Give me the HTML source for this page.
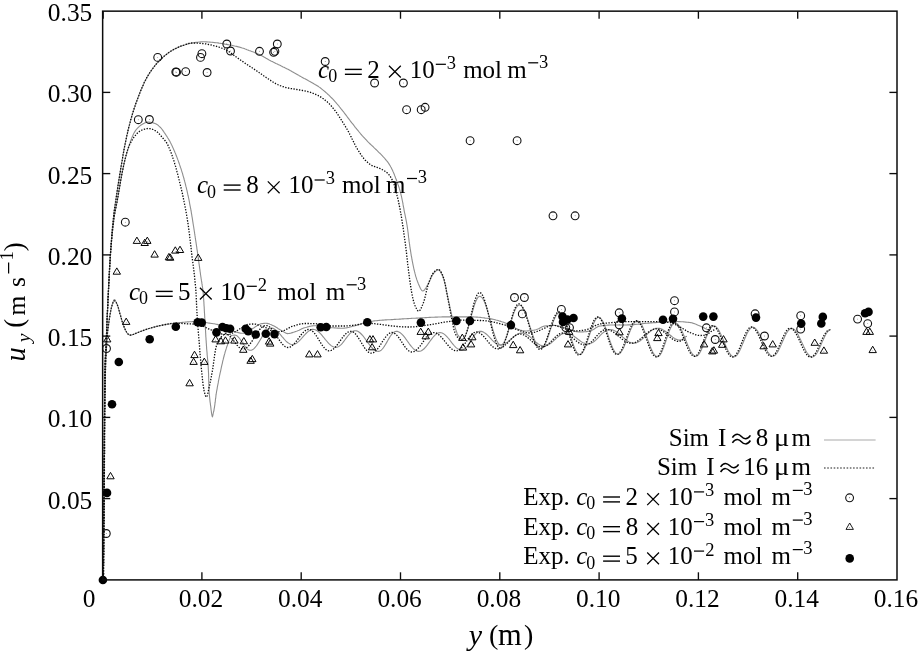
<!DOCTYPE html><html><head><meta charset="utf-8"><title>chart</title>
<style>html,body{margin:0;padding:0;background:#fff}svg{display:block;will-change:transform;opacity:0.999}text{font-family:"Liberation Serif",serif;fill:#000}</style></head><body>
<svg width="918" height="651" viewBox="0 0 918 651" font-size="25.0">
<rect width="918" height="651" fill="#fff"/>
<g fill="none" stroke="#8e8e8e" stroke-width="1.1" stroke-linejoin="round">
<path d="M103.4 580.0 L103.4 579.0 L103.4 578.0 L103.4 577.0 L103.4 576.0 L103.5 575.0 L103.5 574.0 L103.5 573.0 L103.5 572.0 L103.5 571.0 L103.5 570.0 L103.5 569.0 L103.5 568.0 L103.5 567.0 L103.5 566.0 L103.6 565.0 L103.6 564.0 L103.6 563.0 L103.6 562.0 L103.6 561.0 L103.6 560.0 L103.6 559.0 L103.6 558.0 L103.6 557.0 L103.6 556.0 L103.6 555.0 L103.7 554.0 L103.7 553.0 L103.7 552.0 L103.7 551.0 L103.7 550.0 L103.7 549.0 L103.7 548.0 L103.7 547.0 L103.7 546.0 L103.7 545.0 L103.8 544.0 L103.8 543.0 L103.8 542.0 L103.8 541.0 L103.8 540.0 L103.8 539.0 L103.8 538.0 L103.8 537.0 L103.8 536.0 L103.8 535.0 L103.8 534.0 L103.9 533.0 L103.9 532.0 L103.9 531.0 L103.9 530.0 L103.9 529.0 L103.9 528.0 L103.9 527.0 L103.9 526.0 L103.9 525.0 L103.9 524.0 L103.9 523.0 L104.0 522.0 L104.0 521.0 L104.0 520.0 L104.0 519.0 L104.0 518.0 L104.0 517.0 L104.0 516.0 L104.0 515.0 L104.0 514.0 L104.0 513.0 L104.0 512.0 L104.1 511.0 L104.1 510.0 L104.1 509.0 L104.1 508.0 L104.1 507.0 L104.1 506.0 L104.1 505.0 L104.1 504.0 L104.1 503.0 L104.1 502.0 L104.1 501.0 L104.1 500.0 L104.2 499.0 L104.2 498.0 L104.2 497.0 L104.2 496.0 L104.2 495.0 L104.2 494.0 L104.2 493.0 L104.2 492.0 L104.2 491.0 L104.2 490.0 L104.2 489.0 L104.2 488.0 L104.2 487.0 L104.3 486.0 L104.3 485.0 L104.3 484.0 L104.3 483.0 L104.3 482.0 L104.3 481.0 L104.3 480.0 L104.3 479.0 L104.3 478.0 L104.3 477.0 L104.3 476.0 L104.3 475.0 L104.3 474.0 L104.3 473.0 L104.4 472.0 L104.4 471.0 L104.4 470.0 L104.4 469.0 L104.4 468.0 L104.4 467.0 L104.4 466.0 L104.4 465.0 L104.4 464.0 L104.4 463.0 L104.4 462.0 L104.4 461.0 L104.4 460.0 L104.4 459.0 L104.4 458.0 L104.4 457.0 L104.4 456.0 L104.4 455.0 L104.5 454.0 L104.5 453.0 L104.5 452.0 L104.5 451.0 L104.5 450.0 L104.5 449.0 L104.5 448.0 L104.5 447.0 L104.5 446.0 L104.5 445.0 L104.5 444.0 L104.5 443.0 L104.5 442.0 L104.5 441.0 L104.5 440.0 L104.5 439.0 L104.5 438.0 L104.5 437.0 L104.5 436.0 L104.5 435.0 L104.5 434.0 L104.5 433.0 L104.5 432.0 L104.5 431.0 L104.6 430.0 L104.6 429.0 L104.6 428.0 L104.6 427.0 L104.6 426.0 L104.6 425.0 L104.6 424.0 L104.6 423.0 L104.6 422.0 L104.6 421.0 L104.6 420.0 L104.6 419.0 L104.6 418.0 L104.6 417.0 L104.6 416.0 L104.6 415.0 L104.6 414.0 L104.6 413.0 L104.6 412.0 L104.6 411.0 L104.6 410.0 L104.7 409.0 L104.7 408.0 L104.7 407.0 L104.7 406.0 L104.7 405.0 L104.7 404.0 L104.7 403.0 L104.7 402.0 L104.7 401.0 L104.7 400.0 L104.7 399.0 L104.7 398.0 L104.7 397.0 L104.7 396.0 L104.7 395.0 L104.8 394.0 L104.8 393.0 L104.8 392.0 L104.8 391.0 L104.8 390.0 L104.8 389.0 L104.8 388.0 L104.8 387.0 L104.8 386.0 L104.8 385.0 L104.8 384.0 L104.9 383.0 L104.9 382.0 L104.9 381.0 L104.9 380.0 L104.9 379.0 L104.9 378.0 L104.9 377.0 L104.9 376.0 L104.9 375.0 L105.0 374.0 L105.0 373.0 L105.0 372.0 L105.0 371.0 L105.0 370.0 L105.0 369.0 L105.0 368.0 L105.1 367.0 L105.1 366.0 L105.1 365.0 L105.1 364.0 L105.2 363.0 L105.2 362.0 L105.3 361.0 L105.3 360.0 L105.3 359.0 L105.4 358.0 L105.4 357.0 L105.5 356.0 L105.5 355.0 L105.6 354.0 L105.6 353.0 L105.7 352.0 L105.8 351.0 L105.8 350.0 L105.9 349.0 L105.9 348.0 L106.0 347.0 L106.0 346.0 L106.1 345.0 L106.1 344.0 L106.2 343.0 L106.2 342.0 L106.3 341.0 L106.3 340.0 L106.3 339.0 L106.4 338.0 L106.4 337.0 L106.5 336.0 L106.5 335.0 L106.5 334.0 L106.6 333.0 L106.6 332.0 L106.7 331.0 L106.7 330.0 L106.7 329.0 L106.8 328.0 L106.8 327.0 L106.9 326.0 L106.9 325.0 L106.9 324.0 L107.0 323.0 L107.0 322.0 L107.0 321.0 L107.1 320.0 L107.1 319.1 L107.2 318.1 L107.2 317.1 L107.3 316.1 L107.3 315.1 L107.3 314.1 L107.4 313.1 L107.4 312.1 L107.5 311.1 L107.5 310.1 L107.6 309.1 L107.6 308.1 L107.7 307.1 L107.7 306.1 L107.8 305.1 L107.8 304.1 L107.9 303.1 L107.9 302.1 L107.9 301.1 L108.0 300.1 L108.0 299.1 L108.1 298.1 L108.1 297.1 L108.2 296.1 L108.2 295.1 L108.3 294.1 L108.3 293.1 L108.4 292.1 L108.4 291.1 L108.5 290.1 L108.5 289.1 L108.6 288.1 L108.6 287.1 L108.7 286.1 L108.7 285.1 L108.8 284.1 L108.8 283.1 L108.9 282.1 L108.9 281.1 L109.0 280.1 L109.0 279.1 L109.1 278.1 L109.2 277.1 L109.2 276.1 L109.3 275.1 L109.3 274.1 L109.4 273.1 L109.4 272.1 L109.5 271.1 L109.5 270.1 L109.6 269.1 L109.6 268.1 L109.7 267.1 L109.7 266.1 L109.8 265.1 L109.9 264.1 L109.9 263.1 L110.0 262.1 L110.0 261.1 L110.1 260.1 L110.2 259.1 L110.2 258.1 L110.3 257.1 L110.3 256.1 L110.4 255.1 L110.5 254.1 L110.5 253.1 L110.6 252.1 L110.7 251.1 L110.7 250.1 L110.8 249.1 L110.9 248.2 L110.9 247.2 L111.0 246.2 L111.1 245.2 L111.2 244.2 L111.2 243.2 L111.3 242.2 L111.4 241.2 L111.4 240.2 L111.5 239.2 L111.6 238.2 L111.7 237.2 L111.8 236.2 L111.8 235.2 L111.9 234.2 L112.0 233.2 L112.1 232.2 L112.2 231.2 L112.2 230.2 L112.3 229.2 L112.4 228.2 L112.5 227.2 L112.6 226.2 L112.7 225.2 L112.8 224.2 L112.9 223.2 L113.0 222.2 L113.1 221.2 L113.2 220.2 L113.3 219.2 L113.4 218.3 L113.5 217.3 L113.6 216.3 L113.7 215.3 L113.8 214.3 L113.9 213.3 L114.1 212.3 L114.2 211.3 L114.3 210.3 L114.5 209.3 L114.6 208.3 L114.7 207.3 L114.9 206.4 L115.0 205.4 L115.2 204.4 L115.3 203.4 L115.5 202.4 L115.6 201.4 L115.8 200.4 L115.9 199.4 L116.1 198.4 L116.2 197.4 L116.4 196.5 L116.5 195.5 L116.7 194.5 L116.8 193.5 L117.0 192.5 L117.1 191.5 L117.3 190.5 L117.4 189.5 L117.6 188.6 L117.7 187.6 L117.9 186.6 L118.0 185.6 L118.2 184.6 L118.3 183.6 L118.5 182.6 L118.7 181.6 L118.8 180.6 L119.0 179.7 L119.1 178.7 L119.3 177.7 L119.5 176.7 L119.6 175.7 L119.8 174.7 L119.9 173.7 L120.1 172.8 L120.3 171.8 L120.4 170.8 L120.6 169.8 L120.7 168.8 L120.9 167.8 L121.1 166.8 L121.2 165.8 L121.4 164.9 L121.6 163.9 L121.7 162.9 L121.9 161.9 L122.1 160.9 L122.2 159.9 L122.4 158.9 L122.6 158.0 L122.7 157.0 L122.9 156.0 L123.1 155.0 L123.2 154.0 L123.4 153.0 L123.6 152.0 L123.8 151.1 L123.9 150.1 L124.1 149.1 L124.3 148.1 L124.5 147.1 L124.7 146.1 L124.9 145.2 L125.1 144.2 L125.3 143.2 L125.5 142.2 L125.7 141.2 L125.9 140.3 L126.1 139.3 L126.3 138.3 L126.5 137.3 L126.7 136.3 L126.9 135.4 L127.1 134.4 L127.4 133.4 L127.6 132.4 L127.8 131.5 L128.0 130.5 L128.3 129.5 L128.5 128.5 L128.7 127.6 L129.0 126.6 L129.2 125.6 L129.5 124.7 L129.7 123.7 L130.0 122.7 L130.2 121.8 L130.5 120.8 L130.7 119.8 L131.0 118.9 L131.3 117.9 L131.6 117.0 L131.8 116.0 L132.1 115.0 L132.4 114.1 L132.7 113.1 L133.0 112.2 L133.3 111.2 L133.6 110.2 L133.9 109.3 L134.2 108.3 L134.5 107.4 L134.9 106.4 L135.2 105.5 L135.5 104.6 L135.8 103.6 L136.2 102.7 L136.5 101.7 L136.9 100.8 L137.2 99.8 L137.5 98.9 L137.9 98.0 L138.2 97.0 L138.6 96.1 L139.0 95.2 L139.3 94.2 L139.7 93.3 L140.0 92.4 L140.4 91.4 L140.8 90.5 L141.2 89.6 L141.6 88.6 L142.0 87.7 L142.4 86.8 L142.8 85.9 L143.2 85.0 L143.6 84.0 L144.0 83.1 L144.4 82.2 L144.9 81.4 L145.3 80.5 L145.8 79.6 L146.3 78.7 L146.7 77.8 L147.2 77.0 L147.7 76.1 L148.2 75.2 L148.8 74.4 L149.3 73.5 L149.8 72.7 L150.4 71.8 L151.0 71.0 L151.5 70.2 L152.1 69.4 L152.7 68.6 L153.3 67.7 L153.9 67.0 L154.5 66.2 L155.1 65.4 L155.8 64.6 L156.4 63.9 L157.1 63.1 L157.7 62.4 L158.4 61.6 L159.1 60.9 L159.8 60.2 L160.5 59.5 L161.3 58.8 L162.0 58.1 L162.7 57.4 L163.5 56.8 L164.2 56.1 L165.0 55.5 L165.8 54.9 L166.6 54.2 L167.4 53.6 L168.2 53.0 L169.0 52.4 L169.8 51.9 L170.7 51.3 L171.5 50.8 L172.4 50.3 L173.2 49.8 L174.1 49.3 L175.0 48.8 L175.9 48.4 L176.8 47.9 L177.7 47.5 L178.6 47.1 L179.5 46.7 L180.4 46.3 L181.4 45.9 L182.3 45.6 L183.3 45.3 L184.2 45.0 L185.2 44.7 L186.1 44.4 L187.1 44.1 L188.1 43.9 L189.0 43.6 L190.0 43.4 L191.0 43.2 L192.0 43.0 L193.0 42.9 L193.9 42.7 L194.9 42.6 L195.9 42.4 L196.9 42.3 L197.9 42.2 L198.9 42.0 L199.9 42.0 L200.9 41.9 L201.9 41.8 L202.9 41.8 L203.9 41.8 L204.9 41.8 L205.9 41.9 L206.9 41.9 L207.9 42.0 L208.9 42.0 L209.9 42.1 L210.9 42.2 L211.9 42.3 L212.9 42.4 L213.9 42.5 L214.9 42.6 L215.9 42.7 L216.9 42.8 L217.9 42.9 L218.9 43.1 L219.8 43.2 L220.8 43.4 L221.8 43.5 L222.8 43.7 L223.8 43.9 L224.8 44.1 L225.8 44.2 L226.7 44.4 L227.7 44.6 L228.7 44.8 L229.7 45.0 L230.7 45.2 L231.7 45.3 L232.6 45.5 L233.6 45.7 L234.6 46.0 L235.6 46.2 L236.6 46.4 L237.5 46.6 L238.5 46.9 L239.5 47.1 L240.4 47.4 L241.4 47.7 L242.3 48.0 L243.3 48.3 L244.2 48.6 L245.2 49.0 L246.1 49.3 L247.0 49.7 L248.0 50.0 L248.9 50.4 L249.8 50.7 L250.8 51.1 L251.7 51.4 L252.7 51.8 L253.6 52.1 L254.5 52.5 L255.5 52.9 L256.4 53.2 L257.3 53.6 L258.2 54.0 L259.2 54.4 L260.1 54.8 L260.9 55.3 L261.8 55.7 L262.7 56.2 L263.6 56.7 L264.4 57.3 L265.3 57.8 L266.1 58.3 L267.0 58.8 L267.9 59.3 L268.7 59.8 L269.6 60.3 L270.5 60.7 L271.4 61.2 L272.3 61.6 L273.2 62.1 L274.1 62.5 L275.0 62.9 L275.9 63.4 L276.8 63.8 L277.7 64.2 L278.6 64.7 L279.5 65.1 L280.4 65.5 L281.3 66.0 L282.2 66.4 L283.1 66.9 L284.0 67.3 L284.9 67.8 L285.8 68.2 L286.7 68.7 L287.5 69.1 L288.4 69.6 L289.3 70.1 L290.2 70.6 L291.1 71.0 L291.9 71.5 L292.8 72.0 L293.7 72.5 L294.6 73.0 L295.4 73.4 L296.3 73.9 L297.2 74.4 L298.1 74.9 L298.9 75.4 L299.8 75.9 L300.7 76.4 L301.5 76.9 L302.4 77.4 L303.3 77.9 L304.2 78.4 L305.0 78.8 L305.9 79.3 L306.8 79.8 L307.7 80.3 L308.5 80.8 L309.4 81.3 L310.3 81.7 L311.2 82.2 L312.1 82.7 L313.0 83.2 L313.8 83.7 L314.7 84.2 L315.5 84.7 L316.4 85.2 L317.2 85.7 L318.1 86.3 L318.9 86.9 L319.7 87.4 L320.5 88.0 L321.3 88.6 L322.1 89.3 L322.8 89.9 L323.6 90.5 L324.4 91.2 L325.2 91.8 L325.9 92.5 L326.7 93.2 L327.4 93.8 L328.1 94.5 L328.9 95.2 L329.6 95.9 L330.3 96.6 L331.0 97.3 L331.7 98.0 L332.4 98.7 L333.1 99.4 L333.8 100.2 L334.4 100.9 L335.1 101.7 L335.8 102.4 L336.4 103.2 L337.1 104.0 L337.7 104.7 L338.4 105.5 L339.0 106.2 L339.6 107.0 L340.3 107.8 L340.9 108.6 L341.5 109.3 L342.1 110.1 L342.7 110.9 L343.4 111.7 L344.0 112.5 L344.6 113.3 L345.2 114.1 L345.8 114.9 L346.4 115.7 L347.0 116.5 L347.6 117.3 L348.2 118.1 L348.8 118.9 L349.4 119.7 L350.0 120.5 L350.6 121.3 L351.2 122.1 L351.8 122.9 L352.5 123.7 L353.1 124.4 L353.7 125.2 L354.3 126.0 L354.9 126.8 L355.5 127.6 L356.2 128.4 L356.8 129.2 L357.4 129.9 L358.1 130.7 L358.7 131.5 L359.3 132.2 L360.0 133.0 L360.6 133.8 L361.3 134.5 L361.9 135.3 L362.6 136.0 L363.3 136.8 L363.9 137.5 L364.6 138.2 L365.3 139.0 L366.0 139.7 L366.7 140.4 L367.3 141.2 L368.0 141.9 L368.8 142.6 L369.5 143.3 L370.2 144.0 L370.9 144.7 L371.6 145.4 L372.4 146.0 L373.1 146.7 L373.8 147.4 L374.5 148.1 L375.3 148.8 L376.0 149.5 L376.7 150.2 L377.4 150.9 L378.1 151.6 L378.8 152.3 L379.6 153.0 L380.3 153.7 L381.0 154.4 L381.7 155.1 L382.4 155.8 L383.1 156.6 L383.8 157.3 L384.4 158.0 L385.1 158.8 L385.7 159.6 L386.3 160.4 L387.0 161.1 L387.6 161.9 L388.2 162.7 L388.8 163.6 L389.3 164.4 L389.8 165.2 L390.3 166.1 L390.8 167.0 L391.3 167.8 L391.7 168.7 L392.1 169.6 L392.6 170.5 L393.0 171.5 L393.4 172.4 L393.8 173.3 L394.2 174.2 L394.5 175.2 L394.9 176.1 L395.3 177.0 L395.6 178.0 L396.0 178.9 L396.3 179.8 L396.7 180.8 L397.0 181.7 L397.4 182.7 L397.7 183.6 L398.0 184.5 L398.4 185.5 L398.7 186.4 L399.0 187.4 L399.3 188.4 L399.6 189.3 L399.9 190.3 L400.1 191.2 L400.4 192.2 L400.7 193.2 L400.9 194.1 L401.1 195.1 L401.4 196.1 L401.6 197.0 L401.8 198.0 L402.0 199.0 L402.2 200.0 L402.4 201.0 L402.6 201.9 L402.8 202.9 L403.0 203.9 L403.1 204.9 L403.3 205.9 L403.5 206.9 L403.7 207.8 L403.9 208.8 L404.0 209.8 L404.2 210.8 L404.4 211.8 L404.6 212.8 L404.8 213.7 L405.0 214.7 L405.2 215.7 L405.4 216.7 L405.6 217.7 L405.8 218.7 L406.0 219.6 L406.2 220.6 L406.4 221.6 L406.6 222.6 L406.7 223.6 L406.9 224.5 L407.1 225.5 L407.2 226.5 L407.4 227.5 L407.5 228.5 L407.7 229.5 L407.8 230.5 L407.9 231.5 L408.1 232.5 L408.2 233.5 L408.3 234.4 L408.4 235.4 L408.5 236.4 L408.6 237.4 L408.8 238.4 L408.9 239.4 L409.0 240.4 L409.1 241.4 L409.3 242.4 L409.4 243.4 L409.6 244.4 L409.7 245.4 L409.8 246.3 L410.0 247.3 L410.1 248.3 L410.3 249.3 L410.5 250.3 L410.6 251.3 L410.8 252.3 L410.9 253.3 L411.1 254.3 L411.2 255.3 L411.4 256.2 L411.6 257.2 L411.8 258.2 L411.9 259.2 L412.1 260.2 L412.3 261.2 L412.5 262.2 L412.7 263.1 L412.9 264.1 L413.1 265.1 L413.3 266.1 L413.5 267.0 L413.7 268.0 L413.9 269.0 L414.1 270.0 L414.4 270.9 L414.6 271.9 L414.9 272.9 L415.1 273.9 L415.4 274.8 L415.6 275.8 L415.9 276.8 L416.2 277.7 L416.5 278.7 L416.8 279.7 L417.2 280.6 L417.5 281.5 L417.9 282.5 L418.2 283.4 L418.6 284.3 L419.0 285.2 L419.5 286.3 L420.0 287.4 L420.5 288.5 L421.1 289.5 L421.7 290.3 L422.3 290.8 L422.8 291.0 L423.4 290.8 L424.1 290.3 L424.7 289.6 L425.4 288.7 L426.0 287.7 L426.6 286.6 L427.2 285.6 L427.8 284.7 L428.3 283.8 L428.8 282.9 L429.2 282.0 L429.7 281.1 L430.1 280.1 L430.5 279.2 L430.9 278.2 L431.3 277.3 L431.7 276.4 L432.2 275.5 L432.7 274.7 L433.2 273.9 L433.8 273.1 L434.5 272.3 L435.4 271.5 L436.2 270.7 L437.1 270.2 L437.8 269.8 L438.5 269.8 L439.1 270.2 L439.7 270.7 L440.3 271.5 L440.8 272.4 L441.4 273.4 L441.9 274.5 L442.4 275.7 L442.8 276.8 L443.2 277.9 L443.6 278.9 L443.9 279.8 L444.2 280.7 L444.4 281.6 L444.7 282.6 L445.0 283.5 L445.2 284.5 L445.4 285.5 L445.6 286.4 L445.9 287.4 L446.1 288.4 L446.2 289.4 L446.4 290.4 L446.6 291.4 L446.8 292.4 L447.0 293.4 L447.2 294.4 L447.4 295.4 L447.6 296.4 L447.8 297.4 L448.0 298.4 L448.2 299.3 L448.4 300.3 L448.6 301.3 L448.9 302.3 L449.1 303.2 L449.3 304.2 L449.5 305.2 L449.7 306.2 L449.9 307.2 L450.1 308.1 L450.3 309.1 L450.6 310.1 L450.8 311.1 L451.0 312.0 L451.2 313.0 L451.4 314.0 L451.7 315.0 L451.9 315.9 L452.1 316.9 L452.4 317.9 L452.6 318.8 L452.9 319.8 L453.1 320.8 L453.4 321.7 L453.7 322.7 L454.0 323.7 L454.2 324.6 L454.5 325.6 L454.8 326.5 L455.1 327.5 L455.4 328.4 L455.7 329.4 L456.1 330.3 L456.4 331.3 L456.7 332.2 L457.0 333.2 L457.3 334.1 L457.4 334.3 L461.7 340.0 L462.7 339.7 L463.7 338.7 L464.7 337.1 L465.7 334.9 L466.7 332.3 L467.7 329.2 L468.7 325.8 L469.7 322.1 L470.7 318.3 L471.7 314.6 L472.7 310.9 L473.7 307.4 L474.7 304.3 L475.7 301.6 L476.7 299.4 L477.7 297.7 L478.7 296.7 L479.7 296.3 L479.8 296.3 L480.8 296.6 L481.8 297.4 L482.8 298.7 L483.8 300.5 L484.8 302.8 L485.8 305.4 L486.8 308.4 L487.8 311.7 L488.8 315.1 L489.8 318.7 L490.8 322.3 L491.8 325.9 L492.8 329.4 L493.8 332.7 L494.8 335.7 L495.8 338.4 L496.8 340.7 L497.8 342.5 L498.8 343.9 L499.8 344.8 L500.8 345.1 L500.9 345.1 L501.9 344.8 L502.9 343.9 L503.9 342.5 L504.9 340.6 L505.9 338.2 L506.9 335.5 L507.9 332.4 L508.9 329.1 L509.9 325.7 L510.9 322.3 L511.9 319.0 L512.9 315.8 L513.9 312.9 L514.9 310.4 L515.9 308.3 L516.9 306.7 L517.9 305.6 L518.9 305.0 L519.3 305.0 L520.3 305.2 L521.3 305.9 L522.3 307.1 L523.3 308.6 L524.3 310.6 L525.3 312.8 L526.3 315.4 L527.3 318.2 L528.3 321.2 L529.3 324.4 L530.3 327.5 L531.3 330.7 L532.3 333.8 L533.3 336.7 L534.3 339.4 L535.3 341.8 L536.3 344.0 L537.3 345.7 L538.3 347.1 L539.3 348.0 L540.3 348.4 L540.8 348.5 L541.8 348.2 L542.8 347.5 L543.8 346.3 L544.8 344.6 L545.8 342.6 L546.8 340.2 L547.8 337.5 L548.8 334.7 L549.8 331.7 L550.8 328.7 L551.8 325.7 L552.8 322.9 L553.8 320.3 L554.8 318.0 L555.8 316.0 L556.8 314.4 L557.8 313.3 L558.8 312.7 L559.6 312.5 L560.6 312.8 L561.6 313.5 L562.6 314.7 L563.6 316.4 L564.6 318.5 L565.6 321.0 L566.6 323.8 L567.6 326.8 L568.6 329.9 L569.6 333.2 L570.6 336.4 L571.6 339.6 L572.6 342.7 L573.6 345.5 L574.6 348.0 L575.6 350.2 L576.6 352.0 L577.6 353.3 L578.6 354.1 L579.6 354.5 L579.8 354.5 L580.8 354.2 L581.8 353.5 L582.8 352.2 L583.8 350.5 L584.8 348.4 L585.8 345.9 L586.8 343.2 L587.8 340.2 L588.8 337.1 L589.8 334.0 L590.8 331.0 L591.8 328.1 L592.8 325.4 L593.8 323.0 L594.8 320.9 L595.8 319.3 L596.8 318.1 L597.8 317.5 L598.6 317.3 L599.6 317.5 L600.6 318.3 L601.6 319.5 L602.6 321.1 L603.6 323.1 L604.6 325.4 L605.6 328.0 L606.6 330.9 L607.6 333.8 L608.6 336.8 L609.6 339.8 L610.6 342.6 L611.6 345.3 L612.6 347.7 L613.6 349.9 L614.6 351.6 L615.6 352.9 L616.6 353.8 L617.6 354.2 L617.9 354.2 L618.9 354.0 L619.9 353.3 L620.9 352.3 L621.9 350.8 L622.9 349.0 L623.9 347.0 L624.9 344.6 L625.9 342.1 L626.9 339.5 L627.9 336.8 L628.9 334.1 L629.9 331.6 L630.9 329.1 L631.9 327.0 L632.9 325.0 L633.9 323.5 L634.9 322.2 L635.9 321.4 L636.9 321.0 L637.3 321.0 L638.3 321.2 L639.3 321.9 L640.3 322.9 L641.3 324.3 L642.3 326.1 L643.3 328.2 L644.3 330.6 L645.3 333.1 L646.3 335.8 L647.3 338.6 L648.3 341.3 L649.3 344.0 L650.3 346.6 L651.3 349.0 L652.3 351.2 L653.3 353.0 L654.3 354.5 L655.3 355.7 L656.3 356.4 L657.3 356.7 L657.5 356.7 L658.5 356.4 L659.5 355.6 L660.5 354.3 L661.5 352.6 L662.5 350.4 L663.5 347.9 L664.5 345.1 L665.5 342.2 L666.5 339.1 L667.5 336.1 L668.5 333.3 L669.5 330.6 L670.5 328.2 L671.5 326.2 L672.5 324.6 L673.5 323.5 L674.5 322.9 L675.1 322.8 L676.1 323.0 L677.1 323.6 L678.1 324.5 L679.1 325.8 L680.1 327.3 L681.1 329.2 L682.1 331.3 L683.1 333.6 L684.1 336.0 L685.1 338.5 L686.1 341.0 L687.1 343.5 L688.1 345.9 L689.1 348.1 L690.1 350.2 L691.1 352.0 L692.1 353.5 L693.1 354.7 L694.1 355.6 L695.1 356.1 L695.9 356.2 L696.9 356.0 L697.9 355.3 L698.9 354.1 L699.9 352.6 L700.9 350.7 L701.9 348.5 L702.9 346.1 L703.9 343.6 L704.9 340.9 L705.9 338.3 L706.9 335.7 L707.9 333.3 L708.9 331.2 L709.9 329.3 L710.9 327.8 L711.9 326.7 L712.9 326.1 L713.8 325.9 L714.8 326.1 L715.8 326.6 L716.8 327.6 L717.8 328.8 L718.8 330.3 L719.8 332.2 L720.8 334.2 L721.8 336.4 L722.8 338.7 L723.8 341.1 L724.8 343.5 L725.8 345.8 L726.8 348.1 L727.8 350.2 L728.8 352.0 L729.8 353.6 L730.8 354.9 L731.8 355.9 L732.8 356.5 L733.8 356.8 L734.0 356.8 L735.0 356.6 L736.0 356.0 L737.0 355.0 L738.0 353.6 L739.0 351.9 L740.0 350.0 L741.0 347.8 L742.0 345.4 L743.0 343.0 L744.0 340.5 L745.0 338.1 L746.0 335.8 L747.0 333.6 L748.0 331.7 L749.0 330.1 L750.0 328.8 L751.0 327.9 L752.0 327.3 L752.8 327.2 L753.8 327.4 L754.8 327.9 L755.8 328.8 L756.8 330.0 L757.8 331.4 L758.8 333.2 L759.8 335.1 L760.8 337.2 L761.8 339.4 L762.8 341.7 L763.8 344.0 L764.8 346.2 L765.8 348.3 L766.8 350.2 L767.8 352.0 L768.8 353.4 L769.8 354.6 L770.8 355.5 L771.8 356.0 L772.8 356.2 L773.8 356.0 L774.8 355.4 L775.8 354.5 L776.8 353.2 L777.8 351.7 L778.8 349.8 L779.8 347.8 L780.8 345.6 L781.8 343.3 L782.8 341.0 L783.8 338.8 L784.8 336.6 L785.8 334.6 L786.8 332.8 L787.8 331.2 L788.8 330.0 L789.8 329.1 L790.8 328.6 L791.7 328.4 L792.7 328.6 L793.7 329.1 L794.7 329.9 L795.7 331.0 L796.7 332.4 L797.7 334.0 L798.7 335.9 L799.7 337.9 L800.7 340.0 L801.7 342.2 L802.7 344.3 L803.7 346.5 L804.7 348.5 L805.7 350.5 L806.7 352.2 L807.7 353.7 L808.7 355.0 L809.7 356.0 L810.7 356.6 L811.7 357.0 L812.2 357.0 L813.2 356.8 L814.2 356.2 L815.2 355.3 L816.2 354.1 L817.2 352.5 L818.2 350.7 L819.2 348.6 L820.2 346.5 L821.2 344.2 L822.2 341.9 L823.2 339.7 L824.2 337.5 L825.2 335.5 L826.2 333.8 L827.2 332.3 L828.2 331.1 L829.2 330.2 L830.2 329.7 L831.0 329.6"/>
<path d="M103.4 580.0 L103.4 579.0 L103.4 578.0 L103.4 577.0 L103.4 576.0 L103.5 575.0 L103.5 574.0 L103.5 573.0 L103.5 572.0 L103.5 571.0 L103.5 570.0 L103.5 569.0 L103.5 568.0 L103.5 567.0 L103.5 566.0 L103.6 565.0 L103.6 564.0 L103.6 563.0 L103.6 562.0 L103.6 561.0 L103.6 560.0 L103.6 559.0 L103.6 558.0 L103.6 557.0 L103.6 556.0 L103.6 555.0 L103.7 554.0 L103.7 553.0 L103.7 552.0 L103.7 551.0 L103.7 550.0 L103.7 549.0 L103.7 548.0 L103.7 547.0 L103.7 546.0 L103.7 545.0 L103.8 544.0 L103.8 543.0 L103.8 542.0 L103.8 541.0 L103.8 540.0 L103.8 539.0 L103.8 538.0 L103.8 537.0 L103.8 536.0 L103.8 535.0 L103.8 534.0 L103.9 533.0 L103.9 532.0 L103.9 531.0 L103.9 530.0 L103.9 529.0 L103.9 528.0 L103.9 527.0 L103.9 526.0 L103.9 525.0 L103.9 524.0 L103.9 523.0 L104.0 522.0 L104.0 521.0 L104.0 520.0 L104.0 519.0 L104.0 518.0 L104.0 517.0 L104.0 516.0 L104.0 515.0 L104.0 514.0 L104.0 513.0 L104.0 512.0 L104.1 511.0 L104.1 510.0 L104.1 509.0 L104.1 508.0 L104.1 507.0 L104.1 506.0 L104.1 505.0 L104.1 504.0 L104.1 503.0 L104.1 502.0 L104.1 501.0 L104.1 500.0 L104.2 499.0 L104.2 498.0 L104.2 497.0 L104.2 496.0 L104.2 495.0 L104.2 494.0 L104.2 493.0 L104.2 492.0 L104.2 491.0 L104.2 490.0 L104.2 489.0 L104.2 488.0 L104.2 487.0 L104.3 486.0 L104.3 485.0 L104.3 484.0 L104.3 483.0 L104.3 482.0 L104.3 481.0 L104.3 480.0 L104.3 479.0 L104.3 478.0 L104.3 477.0 L104.3 476.0 L104.3 475.0 L104.3 474.0 L104.3 473.0 L104.4 472.0 L104.4 471.0 L104.4 470.0 L104.4 469.0 L104.4 468.0 L104.4 467.0 L104.4 466.0 L104.4 465.0 L104.4 464.0 L104.4 463.0 L104.4 462.0 L104.4 461.0 L104.4 460.0 L104.4 459.0 L104.4 458.0 L104.4 457.0 L104.4 456.0 L104.4 455.0 L104.5 454.0 L104.5 453.0 L104.5 452.0 L104.5 451.0 L104.5 450.0 L104.5 449.0 L104.5 448.0 L104.5 447.0 L104.5 446.0 L104.5 445.0 L104.5 444.0 L104.5 443.0 L104.5 442.0 L104.5 441.0 L104.5 440.0 L104.5 439.0 L104.5 438.0 L104.5 437.0 L104.5 436.0 L104.5 435.0 L104.5 434.0 L104.5 433.0 L104.5 432.0 L104.5 431.0 L104.6 430.0 L104.6 429.0 L104.6 428.0 L104.6 427.0 L104.6 426.0 L104.6 425.0 L104.6 424.0 L104.6 423.0 L104.6 422.0 L104.6 421.0 L104.6 420.0 L104.6 419.0 L104.6 418.0 L104.6 417.0 L104.6 416.0 L104.6 415.0 L104.6 414.0 L104.6 413.0 L104.6 412.0 L104.6 411.0 L104.6 410.0 L104.7 409.0 L104.7 408.0 L104.7 407.0 L104.7 406.0 L104.7 405.0 L104.7 404.0 L104.7 403.0 L104.7 402.0 L104.7 401.0 L104.7 400.0 L104.7 399.0 L104.7 398.0 L104.7 397.0 L104.7 396.0 L104.7 395.0 L104.8 394.0 L104.8 393.0 L104.8 392.0 L104.8 391.0 L104.8 390.0 L104.8 389.0 L104.8 388.0 L104.8 387.0 L104.8 386.0 L104.8 385.0 L104.8 384.0 L104.9 383.0 L104.9 382.0 L104.9 381.0 L104.9 380.0 L104.9 379.0 L104.9 378.0 L104.9 377.0 L104.9 376.0 L104.9 375.0 L105.0 374.0 L105.0 373.0 L105.0 372.0 L105.0 371.0 L105.0 370.0 L105.0 369.0 L105.0 368.0 L105.1 367.0 L105.1 366.0 L105.1 365.0 L105.1 364.0 L105.2 363.0 L105.2 362.0 L105.3 361.0 L105.3 360.0 L105.3 359.0 L105.4 358.0 L105.4 357.0 L105.5 356.0 L105.5 355.0 L105.6 354.0 L105.6 353.0 L105.7 352.0 L105.8 351.0 L105.8 350.0 L105.9 349.0 L105.9 348.0 L106.0 347.0 L106.0 346.0 L106.1 345.0 L106.1 344.0 L106.2 343.0 L106.2 342.0 L106.3 341.0 L106.3 340.0 L106.3 339.0 L106.4 338.0 L106.4 337.0 L106.5 336.0 L106.5 335.0 L106.5 334.0 L106.6 333.0 L106.6 332.0 L106.7 331.0 L106.7 330.0 L106.7 329.0 L106.8 328.0 L106.8 327.0 L106.9 326.0 L106.9 325.0 L106.9 324.0 L107.0 323.0 L107.0 322.0 L107.0 321.0 L107.1 320.0 L107.1 319.1 L107.2 318.1 L107.2 317.1 L107.3 316.1 L107.3 315.1 L107.3 314.1 L107.4 313.1 L107.4 312.1 L107.5 311.1 L107.5 310.1 L107.6 309.1 L107.6 308.1 L107.7 307.1 L107.7 306.1 L107.8 305.1 L107.8 304.1 L107.9 303.1 L107.9 302.1 L107.9 301.1 L108.0 300.1 L108.0 299.1 L108.1 298.1 L108.1 297.1 L108.2 296.1 L108.2 295.1 L108.3 294.1 L108.3 293.1 L108.4 292.1 L108.4 291.1 L108.5 290.1 L108.5 289.1 L108.6 288.1 L108.6 287.1 L108.7 286.1 L108.7 285.1 L108.8 284.1 L108.8 283.1 L108.9 282.1 L108.9 281.1 L109.0 280.1 L109.0 279.1 L109.1 278.1 L109.1 277.1 L109.2 276.1 L109.2 275.1 L109.3 274.1 L109.3 273.1 L109.4 272.1 L109.4 271.1 L109.5 270.1 L109.5 269.1 L109.6 268.1 L109.7 267.1 L109.7 266.1 L109.8 265.1 L109.8 264.1 L109.9 263.1 L110.0 262.1 L110.0 261.1 L110.1 260.1 L110.1 259.1 L110.2 258.1 L110.3 257.1 L110.3 256.1 L110.4 255.1 L110.5 254.1 L110.5 253.1 L110.6 252.1 L110.7 251.1 L110.8 250.1 L110.8 249.2 L110.9 248.2 L111.0 247.2 L111.1 246.2 L111.2 245.2 L111.2 244.2 L111.3 243.2 L111.4 242.2 L111.5 241.2 L111.6 240.2 L111.7 239.2 L111.8 238.2 L111.9 237.2 L112.0 236.2 L112.1 235.2 L112.2 234.2 L112.3 233.2 L112.4 232.2 L112.5 231.2 L112.6 230.2 L112.7 229.2 L112.8 228.2 L112.9 227.2 L113.0 226.2 L113.2 225.2 L113.3 224.3 L113.4 223.3 L113.5 222.3 L113.6 221.3 L113.8 220.3 L113.9 219.3 L114.0 218.3 L114.2 217.3 L114.3 216.3 L114.4 215.3 L114.6 214.4 L114.8 213.4 L114.9 212.4 L115.1 211.4 L115.3 210.4 L115.5 209.4 L115.7 208.5 L115.9 207.5 L116.1 206.5 L116.3 205.5 L116.5 204.5 L116.7 203.6 L116.9 202.6 L117.1 201.6 L117.3 200.6 L117.4 199.6 L117.6 198.6 L117.8 197.7 L118.0 196.7 L118.1 195.7 L118.3 194.7 L118.5 193.7 L118.6 192.7 L118.8 191.7 L119.0 190.7 L119.1 189.8 L119.3 188.8 L119.5 187.8 L119.6 186.8 L119.8 185.8 L120.0 184.8 L120.1 183.8 L120.3 182.9 L120.5 181.9 L120.6 180.9 L120.8 179.9 L121.0 178.9 L121.2 177.9 L121.3 176.9 L121.5 176.0 L121.7 175.0 L121.9 174.0 L122.1 173.0 L122.3 172.0 L122.5 171.1 L122.7 170.1 L122.9 169.1 L123.1 168.1 L123.3 167.1 L123.5 166.2 L123.7 165.2 L124.0 164.2 L124.2 163.2 L124.4 162.3 L124.6 161.3 L124.9 160.3 L125.1 159.3 L125.4 158.4 L125.6 157.4 L125.9 156.4 L126.1 155.5 L126.4 154.5 L126.7 153.5 L126.9 152.6 L127.2 151.6 L127.5 150.7 L127.8 149.7 L128.1 148.8 L128.4 147.8 L128.7 146.9 L129.0 145.9 L129.3 144.9 L129.6 144.0 L130.0 143.0 L130.3 142.0 L130.6 141.0 L131.0 140.1 L131.3 139.1 L131.7 138.2 L132.1 137.2 L132.5 136.3 L132.9 135.4 L133.3 134.5 L133.7 133.6 L134.2 132.7 L134.7 131.9 L135.2 131.1 L135.7 130.3 L136.3 129.5 L136.9 128.8 L137.6 128.0 L138.4 127.3 L139.1 126.6 L139.9 125.9 L140.7 125.3 L141.5 124.8 L142.4 124.3 L143.2 123.7 L144.2 123.2 L145.1 122.7 L146.1 122.4 L147.0 122.1 L148.0 122.0 L148.9 122.0 L149.9 122.2 L150.9 122.3 L151.9 122.6 L152.9 122.8 L153.9 123.1 L154.8 123.4 L155.7 123.8 L156.6 124.2 L157.4 124.8 L158.3 125.4 L159.0 126.1 L159.8 126.8 L160.5 127.5 L161.1 128.2 L161.8 129.0 L162.4 129.8 L163.0 130.6 L163.5 131.4 L164.1 132.3 L164.7 133.1 L165.2 133.9 L165.8 134.8 L166.3 135.6 L166.9 136.4 L167.4 137.3 L167.9 138.1 L168.5 139.0 L169.0 139.9 L169.5 140.7 L170.0 141.6 L170.4 142.5 L170.9 143.4 L171.3 144.3 L171.8 145.2 L172.2 146.1 L172.6 147.0 L173.0 147.9 L173.4 148.8 L173.8 149.7 L174.2 150.6 L174.6 151.5 L175.0 152.5 L175.4 153.4 L175.8 154.3 L176.1 155.3 L176.5 156.2 L176.9 157.1 L177.2 158.1 L177.6 159.0 L177.9 159.9 L178.3 160.9 L178.6 161.8 L178.9 162.8 L179.3 163.7 L179.6 164.7 L179.9 165.6 L180.2 166.5 L180.5 167.5 L180.9 168.4 L181.2 169.4 L181.5 170.4 L181.8 171.3 L182.1 172.3 L182.4 173.2 L182.7 174.2 L182.9 175.1 L183.2 176.1 L183.5 177.1 L183.8 178.0 L184.0 179.0 L184.3 180.0 L184.6 180.9 L184.8 181.9 L185.1 182.9 L185.3 183.8 L185.6 184.8 L185.8 185.8 L186.0 186.7 L186.3 187.7 L186.5 188.7 L186.7 189.6 L187.0 190.6 L187.2 191.6 L187.4 192.6 L187.6 193.5 L187.8 194.5 L188.0 195.5 L188.3 196.5 L188.5 197.5 L188.7 198.4 L188.9 199.4 L189.1 200.4 L189.3 201.4 L189.5 202.4 L189.6 203.3 L189.8 204.3 L190.0 205.3 L190.2 206.3 L190.4 207.3 L190.6 208.3 L190.8 209.2 L190.9 210.2 L191.1 211.2 L191.3 212.2 L191.4 213.2 L191.6 214.2 L191.8 215.2 L191.9 216.1 L192.1 217.1 L192.3 218.1 L192.4 219.1 L192.6 220.1 L192.7 221.1 L192.9 222.1 L193.0 223.1 L193.2 224.0 L193.3 225.0 L193.5 226.0 L193.7 227.0 L193.8 228.0 L194.0 229.0 L194.1 230.0 L194.3 231.0 L194.4 232.0 L194.6 232.9 L194.7 233.9 L194.9 234.9 L195.0 235.9 L195.2 236.9 L195.3 237.9 L195.5 238.9 L195.6 239.9 L195.8 240.8 L195.9 241.8 L196.1 242.8 L196.2 243.8 L196.4 244.8 L196.5 245.8 L196.7 246.8 L196.8 247.8 L196.9 248.8 L197.1 249.8 L197.2 250.7 L197.4 251.7 L197.5 252.7 L197.7 253.7 L197.8 254.7 L197.9 255.7 L198.1 256.7 L198.2 257.7 L198.4 258.7 L198.5 259.7 L198.6 260.6 L198.8 261.6 L198.9 262.6 L199.0 263.6 L199.2 264.6 L199.3 265.6 L199.5 266.6 L199.6 267.6 L199.7 268.6 L199.9 269.6 L200.0 270.6 L200.1 271.5 L200.3 272.5 L200.4 273.5 L200.5 274.5 L200.7 275.5 L200.8 276.5 L201.0 277.5 L201.1 278.5 L201.3 279.5 L201.4 280.4 L201.6 281.4 L201.8 282.4 L201.9 283.4 L202.1 284.4 L202.2 285.4 L202.4 286.4 L202.5 287.4 L202.7 288.4 L202.8 289.3 L202.9 290.3 L203.0 291.3 L203.1 292.3 L203.2 293.3 L203.3 294.3 L203.4 295.3 L203.5 296.3 L203.5 297.3 L203.6 298.3 L203.7 299.3 L203.7 300.3 L203.8 301.3 L203.9 302.3 L203.9 303.3 L204.0 304.3 L204.0 305.3 L204.1 306.3 L204.2 307.3 L204.2 308.3 L204.3 309.3 L204.3 310.3 L204.4 311.3 L204.4 312.3 L204.5 313.3 L204.6 314.3 L204.6 315.3 L204.7 316.3 L204.7 317.3 L204.8 318.3 L204.9 319.3 L204.9 320.3 L205.0 321.3 L205.0 322.3 L205.1 323.3 L205.2 324.3 L205.2 325.3 L205.3 326.3 L205.3 327.3 L205.4 328.3 L205.4 329.3 L205.5 330.3 L205.6 331.3 L205.6 332.2 L205.7 333.2 L205.7 334.2 L205.8 335.2 L205.8 336.2 L205.9 337.2 L206.0 338.2 L206.0 339.2 L206.1 340.2 L206.2 341.2 L206.2 342.2 L206.3 343.2 L206.4 344.2 L206.4 345.2 L206.5 346.2 L206.6 347.2 L206.6 348.2 L206.7 349.2 L206.8 350.2 L206.9 351.2 L207.0 352.2 L207.1 353.2 L207.1 354.2 L207.2 355.2 L207.3 356.2 L207.4 357.2 L207.5 358.2 L207.6 359.2 L207.7 360.2 L207.8 361.2 L207.9 362.2 L207.9 363.2 L208.0 364.2 L208.1 365.2 L208.2 366.2 L208.2 367.2 L208.3 368.1 L208.3 369.1 L208.4 370.1 L208.4 371.1 L208.5 372.1 L208.5 373.1 L208.6 374.1 L208.6 375.1 L208.6 376.1 L208.6 377.1 L208.7 378.1 L208.7 379.1 L208.7 380.1 L208.7 381.1 L208.8 382.1 L208.8 383.1 L208.8 384.1 L208.9 385.1 L208.9 386.1 L208.9 387.1 L209.0 388.1 L209.0 389.1 L209.0 390.1 L209.1 391.1 L209.1 392.1 L209.2 393.1 L209.3 394.1 L209.4 395.1 L209.5 396.1 L209.6 397.1 L209.7 398.1 L209.8 399.1 L209.9 400.1 L210.0 401.1 L210.1 402.1 L210.3 403.1 L210.4 404.1 L210.5 405.1 L210.7 406.1 L210.8 407.0 L210.9 408.0 L211.0 409.0 L211.1 410.0 L211.3 411.0 L211.4 412.0 L211.5 413.0 L211.7 414.0 L211.9 415.2 L212.2 416.4 L212.4 416.9 L212.6 416.4 L212.9 415.2 L213.1 414.0 L213.3 413.0 L213.5 412.0 L213.8 411.1 L214.0 410.1 L214.1 409.1 L214.3 408.1 L214.5 407.1 L214.6 406.1 L214.8 405.1 L214.9 404.2 L215.0 403.2 L215.2 402.2 L215.3 401.2 L215.4 400.2 L215.5 399.2 L215.7 398.2 L215.8 397.2 L215.9 396.2 L216.0 395.2 L216.2 394.2 L216.3 393.2 L216.5 392.3 L216.6 391.3 L216.8 390.3 L217.0 389.3 L217.2 388.3 L217.3 387.3 L217.5 386.3 L217.7 385.4 L217.9 384.4 L218.1 383.4 L218.3 382.4 L218.4 381.4 L218.6 380.4 L218.8 379.5 L219.0 378.5 L219.2 377.5 L219.4 376.5 L219.6 375.5 L219.8 374.6 L220.0 373.6 L220.2 372.6 L220.5 371.6 L220.7 370.7 L220.9 369.7 L221.1 368.7 L221.3 367.7 L221.5 366.7 L221.7 365.8 L221.9 364.8 L222.2 363.8 L222.4 362.8 L222.6 361.9 L222.8 360.9 L223.1 359.9 L223.3 358.9 L223.6 358.0 L223.8 357.0 L224.1 356.0 L224.3 355.1 L224.6 354.1 L224.9 353.2 L225.1 352.2 L225.4 351.2 L225.7 350.3 L226.0 349.3 L226.3 348.4 L226.6 347.4 L226.9 346.5 L227.3 345.5 L227.6 344.6 L227.9 343.6 L228.2 342.7 L228.6 341.7 L228.9 340.8 L229.3 339.9 L229.7 339.0 L230.0 338.0 L230.4 337.1 L230.8 336.2 L231.1 335.5 L234.6 335.0 L235.6 335.2 L236.6 335.6 L237.6 336.3 L238.6 337.3 L239.6 338.5 L240.6 339.9 L241.6 341.4 L242.6 342.9 L243.6 344.4 L244.6 345.8 L245.6 347.2 L246.6 348.3 L247.6 349.2 L248.6 349.9 L249.6 350.2 L250.3 350.3 L251.3 350.2 L252.3 349.8 L253.3 349.2 L254.3 348.3 L255.3 347.2 L256.3 346.0 L257.3 344.6 L258.3 343.0 L259.3 341.4 L260.3 339.7 L261.3 338.1 L262.3 336.4 L263.3 334.8 L264.3 333.3 L265.3 331.9 L266.3 330.7 L267.3 329.7 L268.3 328.9 L269.3 328.4 L270.3 328.1 L271.0 328.0 L272.0 328.1 L273.0 328.3 L274.0 328.8 L275.0 329.4 L276.0 330.1 L277.0 331.0 L278.0 332.0 L279.0 333.0 L280.0 334.2 L281.0 335.3 L282.0 336.6 L283.0 337.7 L284.0 338.9 L285.0 340.0 L286.0 341.1 L287.0 342.0 L288.0 342.8 L289.0 343.4 L290.0 344.0 L291.0 344.3 L292.0 344.5 L292.5 344.5 L293.5 344.4 L294.5 344.2 L295.5 343.7 L296.5 343.2 L297.5 342.4 L298.5 341.6 L299.5 340.6 L300.5 339.6 L301.5 338.5 L302.5 337.4 L303.5 336.2 L304.5 335.1 L305.5 334.0 L306.5 333.0 L307.5 332.1 L308.5 331.2 L309.5 330.6 L310.5 330.0 L311.5 329.6 L312.5 329.4 L313.2 329.4 L314.2 329.5 L315.2 329.7 L316.2 330.2 L317.2 330.8 L318.2 331.5 L319.2 332.4 L320.2 333.3 L321.2 334.4 L322.2 335.6 L323.2 336.8 L324.2 338.0 L325.2 339.3 L326.2 340.5 L327.2 341.7 L328.2 342.8 L329.2 343.9 L330.2 344.8 L331.2 345.6 L332.2 346.3 L333.2 346.8 L334.2 347.2 L335.2 347.4 L335.8 347.4 L336.8 347.3 L337.8 347.0 L338.8 346.4 L339.8 345.7 L340.8 344.8 L341.8 343.8 L342.8 342.6 L343.8 341.3 L344.8 340.0 L345.8 338.6 L346.8 337.3 L347.8 336.0 L348.8 334.8 L349.8 333.7 L350.8 332.7 L351.8 331.9 L352.8 331.3 L353.8 330.9 L354.8 330.7 L355.2 330.7 L356.2 330.8 L357.2 331.1 L358.2 331.5 L359.2 332.2 L360.2 333.0 L361.2 334.0 L362.2 335.0 L363.2 336.2 L364.2 337.5 L365.2 338.9 L366.2 340.3 L367.2 341.7 L368.2 343.1 L369.2 344.4 L370.2 345.7 L371.2 346.9 L372.2 348.0 L373.2 349.0 L374.2 349.8 L375.2 350.5 L376.2 351.0 L377.2 351.3 L378.2 351.4 L378.3 351.4 L379.3 351.2 L380.3 350.8 L381.3 350.1 L382.3 349.0 L383.3 347.8 L384.3 346.4 L385.3 344.8 L386.3 343.1 L387.3 341.4 L388.3 339.6 L389.3 337.9 L390.3 336.3 L391.3 334.9 L392.3 333.7 L393.3 332.6 L394.3 331.9 L395.3 331.5 L396.3 331.3 L397.3 331.4 L398.3 331.7 L399.3 332.2 L400.3 332.8 L401.3 333.7 L402.3 334.6 L403.3 335.7 L404.3 336.9 L405.3 338.2 L406.3 339.6 L407.3 341.0 L408.3 342.4 L409.3 343.8 L410.3 345.1 L411.3 346.4 L412.3 347.5 L413.3 348.6 L414.3 349.5 L415.3 350.2 L416.3 350.8 L417.3 351.2 L418.3 351.4 L418.8 351.4 L419.8 351.3 L420.8 351.0 L421.8 350.5 L422.8 349.8 L423.8 349.0 L424.8 348.0 L425.8 346.8 L426.8 345.6 L427.8 344.3 L428.8 342.9 L429.8 341.5 L430.8 340.1 L431.8 338.8 L432.8 337.5 L433.8 336.4 L434.8 335.3 L435.8 334.4 L436.8 333.7 L437.8 333.1 L438.8 332.8 L439.8 332.6 L440.1 332.6 L441.1 332.7 L442.1 333.0 L443.1 333.4 L444.1 334.1 L445.1 334.9 L446.1 335.8 L447.1 336.9 L448.1 338.0 L449.1 339.2 L450.1 340.5 L451.1 341.8 L452.1 343.1 L453.1 344.3 L454.1 345.5 L455.1 346.6 L456.1 347.6 L457.1 348.4 L458.1 349.1 L459.1 349.6 L460.1 349.9 L461.1 350.1 L461.4 350.1 L462.4 350.0 L463.4 349.6 L464.4 348.9 L465.4 348.1 L466.4 347.0 L467.4 345.8 L468.4 344.4 L469.4 342.9 L470.4 341.3 L471.4 339.8 L472.4 338.2 L473.4 336.7 L474.4 335.4 L475.4 334.2 L476.4 333.1 L477.4 332.3 L478.4 331.7 L479.4 331.4 L480.2 331.3 L481.2 331.4 L482.2 331.6 L483.2 332.0 L484.2 332.6 L485.2 333.3 L486.2 334.0 L487.2 334.9 L488.2 335.9 L489.2 336.9 L490.2 338.0 L491.2 339.0 L492.2 340.1 L493.2 341.1 L494.2 342.0 L495.2 342.8 L496.2 343.5 L497.2 344.1 L498.2 344.6 L499.2 344.9 L500.2 345.0 L500.5 345.0 L501.5 344.9 L502.5 344.7 L503.5 344.4 L504.5 344.0 L505.5 343.5 L506.5 342.8 L507.5 342.1 L508.5 341.3 L509.5 340.5 L510.5 339.7 L511.5 338.8 L512.5 337.9 L513.5 337.1 L514.5 336.3 L515.5 335.5 L516.5 334.8 L517.5 334.3 L518.5 333.8 L519.5 333.4 L520.5 333.1 L521.5 333.0 L522.0 333.0 L523.0 333.1 L524.0 333.3 L525.0 333.6 L526.0 334.0 L527.0 334.6 L528.0 335.2 L529.0 336.0 L530.0 336.8 L531.0 337.7 L532.0 338.6 L533.0 339.5 L534.0 340.4 L535.0 341.3 L536.0 342.2 L537.0 343.0 L538.0 343.8 L539.0 344.4 L540.0 345.0 L541.0 345.4 L542.0 345.7 L543.0 345.9 L544.0 346.0 L545.0 345.9 L546.0 345.7 L547.0 345.4 L548.0 345.0 L549.0 344.4 L550.0 343.8 L551.0 343.0 L552.0 342.2 L553.0 341.3 L554.0 340.4 L555.0 339.5 L556.0 338.6 L557.0 337.7 L558.0 336.8 L559.0 336.0 L560.0 335.2 L561.0 334.6 L562.0 334.0 L563.0 333.6 L564.0 333.3 L565.0 333.1 L566.0 333.0 L567.0 333.1 L568.0 333.2 L569.0 333.5 L570.0 333.9 L571.0 334.3 L572.0 334.9 L573.0 335.5 L574.0 336.2 L575.0 337.0 L576.0 337.7 L577.0 338.5 L578.0 339.3 L579.0 340.0 L580.0 340.8 L581.0 341.5 L582.0 342.1 L583.0 342.7 L584.0 343.1 L585.0 343.5 L586.0 343.8 L587.0 343.9 L588.0 344.0 L589.0 343.9 L590.0 343.7 L591.0 343.3 L592.0 342.8 L593.0 342.2 L594.0 341.5 L595.0 340.7 L596.0 339.8 L597.0 338.8 L598.0 337.8 L599.0 336.8 L600.0 335.7 L601.0 334.7 L602.0 333.7 L603.0 332.8 L604.0 332.0 L605.0 331.3 L606.0 330.7 L607.0 330.2 L608.0 329.8 L609.0 329.6 L610.0 329.5 L611.0 329.6 L612.0 329.7 L613.0 330.0 L614.0 330.4 L615.0 330.9 L616.0 331.5 L617.0 332.2 L618.0 333.0 L619.0 333.8 L620.0 334.6 L621.0 335.5 L622.0 336.4 L623.0 337.3 L624.0 338.2 L625.0 339.1 L626.0 339.9 L627.0 340.6 L628.0 341.3 L629.0 341.9 L630.0 342.4 L631.0 342.7 L632.0 343.0 L633.0 343.2 L633.8 343.2 L634.8 343.1 L635.8 342.9 L636.8 342.6 L637.8 342.2 L638.8 341.6 L639.8 341.0 L640.8 340.2 L641.8 339.4 L642.8 338.5 L643.8 337.6 L644.8 336.6 L645.8 335.6 L646.8 334.6 L647.8 333.6 L648.8 332.7 L649.8 331.8 L650.8 331.0 L651.8 330.3 L652.8 329.7 L653.8 329.1 L654.8 328.7 L655.8 328.4 L656.8 328.2 L657.6 328.2 L658.6 328.3 L659.6 328.4 L660.6 328.7 L661.6 329.1 L662.6 329.6 L663.6 330.2 L664.6 330.8 L665.6 331.5 L666.6 332.3 L667.6 333.1 L668.6 333.9 L669.6 334.7 L670.6 335.5 L671.6 336.3 L672.6 337.1 L673.6 337.8 L674.6 338.4 L675.6 338.9 L676.6 339.4 L677.6 339.7 L678.6 340.0 L679.6 340.1 L680.2 340.1 L681.2 339.9 L682.2 339.4 L683.2 338.6 L684.2 337.7 L685.2 337.0 L686.2 336.5 L687.0 336.4"/>
<path d="M103.4 580.0 L103.4 579.0 L103.4 578.0 L103.4 577.0 L103.4 576.0 L103.4 575.0 L103.4 574.0 L103.4 573.0 L103.4 572.0 L103.4 571.0 L103.4 570.0 L103.4 569.0 L103.4 568.0 L103.4 567.0 L103.4 566.0 L103.4 565.0 L103.4 564.0 L103.4 563.0 L103.4 562.0 L103.4 561.0 L103.4 560.0 L103.4 559.0 L103.4 558.0 L103.4 557.0 L103.5 556.0 L103.5 555.0 L103.5 554.0 L103.5 553.0 L103.5 552.0 L103.5 551.0 L103.5 550.0 L103.5 549.0 L103.5 548.0 L103.5 547.0 L103.5 546.0 L103.5 545.0 L103.5 544.0 L103.5 543.0 L103.5 542.0 L103.5 541.0 L103.5 540.0 L103.5 539.0 L103.5 538.0 L103.5 537.0 L103.5 536.0 L103.5 535.0 L103.6 534.0 L103.6 533.0 L103.6 532.0 L103.6 531.0 L103.6 530.0 L103.6 529.0 L103.6 528.0 L103.6 527.0 L103.6 526.0 L103.6 525.0 L103.6 524.0 L103.6 523.0 L103.6 522.0 L103.6 521.0 L103.6 520.0 L103.6 519.0 L103.6 518.0 L103.7 517.0 L103.7 516.0 L103.7 515.0 L103.7 514.0 L103.7 513.0 L103.7 512.0 L103.7 511.0 L103.7 510.0 L103.7 509.0 L103.7 508.0 L103.7 507.0 L103.7 506.0 L103.7 505.0 L103.7 504.0 L103.8 503.0 L103.8 502.0 L103.8 501.0 L103.8 500.0 L103.8 499.0 L103.8 498.0 L103.8 497.0 L103.8 496.0 L103.8 495.0 L103.8 494.0 L103.8 493.0 L103.8 492.0 L103.8 491.0 L103.9 490.0 L103.9 489.0 L103.9 488.0 L103.9 487.0 L103.9 486.0 L103.9 485.0 L103.9 484.0 L103.9 483.0 L103.9 482.0 L103.9 481.0 L103.9 480.0 L103.9 479.0 L104.0 478.0 L104.0 477.0 L104.0 476.0 L104.0 475.0 L104.0 474.0 L104.0 473.0 L104.0 472.0 L104.0 471.0 L104.0 470.0 L104.0 469.0 L104.0 468.0 L104.0 467.0 L104.1 466.0 L104.1 465.0 L104.1 464.0 L104.1 463.0 L104.1 462.0 L104.1 461.0 L104.1 460.0 L104.1 459.0 L104.1 458.0 L104.1 457.0 L104.1 456.0 L104.2 455.0 L104.2 454.0 L104.2 453.0 L104.2 452.0 L104.2 451.0 L104.2 450.0 L104.2 449.0 L104.2 448.0 L104.2 447.0 L104.2 446.0 L104.2 445.0 L104.3 444.0 L104.3 443.0 L104.3 442.0 L104.3 441.0 L104.3 440.0 L104.3 439.0 L104.3 438.0 L104.3 437.0 L104.3 436.0 L104.3 435.0 L104.4 434.0 L104.4 433.0 L104.4 432.0 L104.4 431.0 L104.4 430.0 L104.4 429.0 L104.4 428.0 L104.4 427.0 L104.4 426.0 L104.5 425.0 L104.5 424.0 L104.5 423.0 L104.5 422.0 L104.5 421.0 L104.5 420.0 L104.5 419.0 L104.5 418.0 L104.6 417.0 L104.6 416.0 L104.6 415.0 L104.6 414.0 L104.6 413.0 L104.6 412.0 L104.6 411.0 L104.7 410.0 L104.7 409.0 L104.7 408.0 L104.7 407.0 L104.7 406.0 L104.7 405.0 L104.7 404.0 L104.8 403.0 L104.8 402.0 L104.8 401.0 L104.8 400.0 L104.8 399.0 L104.8 398.0 L104.9 397.0 L104.9 396.0 L104.9 395.0 L104.9 394.0 L104.9 393.0 L105.0 392.0 L105.0 391.0 L105.0 390.0 L105.0 389.0 L105.0 388.0 L105.1 387.0 L105.1 386.0 L105.1 385.0 L105.1 384.0 L105.1 383.0 L105.2 382.0 L105.2 381.0 L105.2 380.0 L105.2 379.0 L105.2 378.0 L105.3 377.0 L105.3 376.0 L105.3 375.0 L105.4 374.0 L105.4 373.0 L105.4 372.0 L105.4 371.0 L105.5 370.0 L105.5 369.0 L105.5 368.0 L105.6 367.0 L105.6 366.0 L105.6 365.0 L105.7 364.0 L105.7 363.0 L105.8 362.0 L105.8 361.0 L105.8 360.0 L105.9 359.0 L105.9 358.0 L106.0 357.0 L106.0 356.0 L106.1 355.0 L106.1 354.0 L106.2 353.0 L106.2 352.0 L106.3 351.0 L106.3 350.0 L106.4 349.0 L106.4 348.0 L106.5 347.0 L106.5 346.0 L106.6 345.0 L106.7 344.0 L106.7 343.0 L106.8 342.0 L106.8 341.0 L106.9 340.0 L107.0 339.1 L107.0 338.1 L107.1 337.1 L107.2 336.1 L107.3 335.1 L107.4 334.1 L107.5 333.1 L107.6 332.1 L107.7 331.1 L107.8 330.1 L108.0 329.1 L108.1 328.1 L108.2 327.1 L108.3 326.1 L108.5 325.1 L108.6 324.1 L108.8 323.1 L108.9 322.1 L109.0 321.2 L109.2 320.2 L109.3 319.2 L109.5 318.2 L109.7 317.2 L109.8 316.2 L110.0 315.2 L110.1 314.3 L110.3 313.3 L110.5 312.3 L110.7 311.3 L110.9 310.3 L111.1 309.3 L111.3 308.3 L111.5 307.4 L111.8 306.4 L112.0 305.4 L112.3 304.5 L112.6 303.5 L112.9 302.4 L113.4 301.2 L113.8 300.2 L114.3 299.6 L114.7 299.7 L115.3 300.4 L115.8 301.4 L116.4 302.5 L116.8 303.6 L117.2 304.5 L117.5 305.4 L117.9 306.4 L118.2 307.3 L118.5 308.3 L118.7 309.3 L119.0 310.2 L119.3 311.2 L119.5 312.2 L119.8 313.2 L120.1 314.1 L120.4 315.1 L120.7 316.0 L120.9 317.0 L121.2 318.0 L121.5 318.9 L121.7 319.9 L122.0 320.9 L122.3 321.8 L122.6 322.8 L122.9 323.7 L123.2 324.7 L123.5 325.6 L123.9 326.5 L124.3 327.5 L124.7 328.4 L125.1 329.3 L125.5 330.2 L126.0 331.1 L126.5 331.9 L127.0 332.8 L127.6 333.7 L128.3 334.3 L129.2 334.9 L130.2 335.1 L131.1 335.0 L132.1 334.8 L133.1 334.5 L134.0 334.2 L135.0 333.8 L135.9 333.3 L136.8 332.9 L137.7 332.6 L138.7 332.2 L139.6 331.8 L140.5 331.5 L141.5 331.1 L142.4 330.8 L143.3 330.4 L144.3 330.1 L145.2 329.8 L146.2 329.4 L147.1 329.1 L148.1 328.8 L149.0 328.5 L150.0 328.2 L150.9 328.0 L151.9 327.7 L152.9 327.4 L153.8 327.1 L154.8 326.9 L155.8 326.6 L156.7 326.4 L157.7 326.2 L158.7 325.9 L159.7 325.7 L160.6 325.5 L161.6 325.3 L162.6 325.1 L163.6 324.9 L164.6 324.7 L165.5 324.6 L166.5 324.4 L167.5 324.3 L168.5 324.1 L169.5 324.0 L170.5 323.8 L171.5 323.7 L172.5 323.5 L173.5 323.4 L174.5 323.3 L175.5 323.2 L176.4 323.0 L177.4 322.9 L178.4 322.8 L179.4 322.7 L180.4 322.6 L181.4 322.5 L182.4 322.4 L183.4 322.3 L184.4 322.2 L185.4 322.1 L186.4 322.0 L187.4 321.9 L188.4 321.9 L189.4 321.8 L190.4 321.7 L191.4 321.7 L192.4 321.6 L193.4 321.5 L194.4 321.5 L195.4 321.4 L196.4 321.4 L197.4 321.3 L198.4 321.3 L199.4 321.3 L200.4 321.3 L201.4 321.4 L202.3 321.6 L203.3 321.9 L204.3 322.2 L205.2 322.4 L206.2 322.6 L207.2 322.8 L208.2 323.0 L209.2 323.1 L210.2 323.2 L211.2 323.4 L212.2 323.5 L213.2 323.7 L214.2 323.8 L215.2 324.0 L216.1 324.2 L217.1 324.4 L218.1 324.6 L219.0 324.9 L219.9 325.2 L220.9 325.6 L221.8 326.0 L222.7 326.4 L223.6 326.9 L224.5 327.3 L225.4 327.8 L226.3 328.2 L227.2 328.7 L228.1 329.1 L229.1 329.4 L230.0 329.8 L230.9 330.2 L231.8 330.6 L232.8 331.0 L233.7 331.3 L234.7 331.6 L235.6 331.9 L236.6 332.1 L237.6 332.4 L238.5 332.6 L239.5 332.9 L240.5 333.1 L241.5 333.2 L242.5 333.3 L243.5 333.3 L244.4 333.1 L245.4 332.8 L246.3 332.4 L247.2 331.9 L248.2 331.4 L249.0 331.0 L249.9 330.5 L250.7 330.0 L251.6 329.4 L252.4 328.8 L253.2 328.2 L254.1 327.7 L254.9 327.1 L255.8 326.6 L256.6 326.0 L257.5 325.4 L258.4 324.9 L259.3 324.4 L260.2 324.1 L261.1 323.8 L262.1 323.6 L263.0 323.5 L264.0 323.4 L265.1 323.3 L266.1 323.3 L267.0 323.4 L268.0 323.6 L269.0 323.8 L269.9 324.2 L270.9 324.6 L271.8 325.0 L272.7 325.4 L273.6 325.8 L274.5 326.2 L275.4 326.7 L276.2 327.3 L277.1 327.8 L277.9 328.4 L278.8 328.9 L279.7 329.4 L280.5 329.9 L281.4 330.4 L282.2 331.0 L283.1 331.5 L284.0 332.0 L284.8 332.4 L285.7 332.9 L286.7 333.4 L287.6 333.6 L288.5 333.5 L289.5 333.4 L290.5 333.2 L291.4 332.9 L292.4 332.6 L293.4 332.3 L294.4 332.0 L295.3 331.6 L296.3 331.3 L297.2 331.0 L298.2 330.6 L299.1 330.2 L300.0 329.7 L300.9 329.3 L301.8 328.8 L302.7 328.4 L303.6 328.0 L304.6 327.7 L305.5 327.5 L306.5 327.2 L307.4 326.9 L308.4 326.7 L309.4 326.4 L310.4 326.2 L311.4 326.0 L312.4 325.9 L313.4 325.8 L314.4 325.7 L315.4 325.7 L316.3 325.7 L317.3 325.8 L318.3 325.9 L319.3 326.0 L320.3 326.2 L321.3 326.3 L322.3 326.5 L323.3 326.6 L324.3 326.8 L325.3 327.0 L326.3 327.1 L327.3 327.3 L328.3 327.4 L329.2 327.5 L330.2 327.6 L331.2 327.7 L332.2 327.7 L333.2 327.8 L334.2 327.9 L335.2 327.9 L336.2 328.0 L337.2 328.1 L338.2 328.1 L339.2 328.1 L340.2 328.2 L341.2 328.2 L342.2 328.2 L343.2 328.2 L344.2 328.1 L345.2 328.0 L346.2 327.9 L347.2 327.7 L348.2 327.5 L349.1 327.3 L350.1 327.0 L351.1 326.8 L352.1 326.5 L353.0 326.3 L354.0 326.0 L355.0 325.8 L356.0 325.5 L356.9 325.2 L357.9 324.9 L358.8 324.6 L359.8 324.3 L360.7 324.0 L361.7 323.6 L362.6 323.3 L363.6 323.0 L364.5 322.7 L365.5 322.4 L366.5 322.2 L367.4 322.0 L368.4 321.8 L369.4 321.6 L370.4 321.5 L371.4 321.3 L372.3 321.2 L373.3 321.0 L374.3 320.9 L375.3 320.8 L376.3 320.7 L377.3 320.6 L378.3 320.5 L379.3 320.4 L380.3 320.3 L381.3 320.2 L382.3 320.1 L383.3 320.1 L384.3 320.0 L385.3 319.9 L386.3 319.9 L387.3 319.8 L388.3 319.8 L389.3 319.7 L390.3 319.7 L391.3 319.6 L392.3 319.6 L393.3 319.5 L394.3 319.4 L395.3 319.4 L396.3 319.3 L397.3 319.3 L398.3 319.2 L399.3 319.1 L400.3 319.1 L401.3 319.0 L402.3 318.9 L403.3 318.9 L404.3 318.8 L405.3 318.8 L406.3 318.7 L407.3 318.6 L408.3 318.6 L409.3 318.5 L410.3 318.5 L411.3 318.4 L412.3 318.3 L413.3 318.3 L414.3 318.2 L415.3 318.2 L416.3 318.1 L417.3 318.1 L418.2 318.0 L419.2 318.0 L420.2 317.9 L421.2 317.9 L422.2 317.8 L423.2 317.8 L424.2 317.7 L425.2 317.6 L426.2 317.6 L427.2 317.5 L428.2 317.5 L429.2 317.4 L430.2 317.4 L431.2 317.3 L432.2 317.3 L433.2 317.2 L434.2 317.2 L435.2 317.1 L436.2 317.1 L437.2 317.1 L438.2 317.0 L439.2 317.0 L440.2 317.0 L441.2 317.0 L442.2 316.9 L443.2 316.9 L444.2 316.9 L445.2 316.9 L446.2 316.9 L447.2 316.9 L448.2 316.9 L449.2 316.9 L450.2 316.9 L451.2 316.9 L452.2 316.9 L453.2 316.9 L454.2 316.9 L455.2 316.9 L456.2 316.9 L457.2 316.9 L458.2 316.9 L459.2 316.9 L460.2 316.9 L461.2 316.9 L462.2 316.9 L463.2 316.9 L464.2 316.9 L465.2 316.9 L466.2 316.9 L467.2 316.9 L468.2 316.9 L469.2 316.9 L470.2 316.9 L471.2 316.9 L472.2 316.9 L473.2 316.9 L474.2 317.0 L475.2 317.0 L476.2 317.1 L477.2 317.1 L478.2 317.2 L479.2 317.3 L480.2 317.4 L481.2 317.5 L482.2 317.7 L483.2 317.8 L484.2 317.9 L485.2 318.1 L486.2 318.2 L487.2 318.3 L488.2 318.5 L489.2 318.6 L490.1 318.8 L491.1 318.9 L492.1 319.1 L493.1 319.3 L494.1 319.5 L495.0 319.7 L496.0 320.0 L497.0 320.2 L498.0 320.5 L498.9 320.8 L499.9 321.1 L500.9 321.4 L501.8 321.7 L502.8 322.0 L503.7 322.3 L504.6 322.7 L505.6 323.0 L506.5 323.4 L507.3 323.9 L508.2 324.3 L509.1 324.8 L510.0 325.4 L510.8 325.9 L511.7 326.4 L512.6 326.9 L513.5 327.3 L514.4 327.8 L515.3 328.1 L516.2 328.5 L517.2 328.9 L518.1 329.3 L519.1 329.6 L520.0 330.0 L521.0 330.3 L522.0 330.6 L522.9 330.8 L523.9 330.9 L524.9 331.0 L525.9 331.0 L526.9 331.0 L527.9 330.9 L528.9 330.8 L529.9 330.7 L530.9 330.6 L531.9 330.5 L532.9 330.3 L533.9 330.2 L534.8 330.0 L535.8 329.8 L536.7 329.5 L537.7 329.1 L538.6 328.7 L539.5 328.2 L540.4 327.7 L541.3 327.2 L542.2 326.8 L543.2 326.4 L544.1 326.1 L545.1 326.0 L546.0 325.9 L547.0 325.8 L548.0 325.8 L549.0 325.7 L550.0 325.6 L551.0 325.6 L552.1 325.6 L553.1 325.5 L554.1 325.5 L555.1 325.5 L556.0 325.5 L557.0 325.7 L558.0 325.9 L559.0 326.1 L559.9 326.4 L560.9 326.7 L561.9 327.0 L562.8 327.4 L563.8 327.7 L564.8 327.9 L565.7 328.2 L566.7 328.5 L567.7 328.8 L568.6 329.1 L569.6 329.5 L570.5 329.8 L571.5 330.1 L572.5 330.5 L573.4 330.8 L574.4 331.1 L575.4 331.4 L576.3 331.6 L577.3 331.8 L578.3 331.9 L579.2 332.0 L580.2 332.0 L581.2 332.0 L582.2 331.9 L583.2 331.9 L584.2 331.8 L585.2 331.7 L586.3 331.6 L587.3 331.4 L588.2 331.3 L589.2 331.1 L590.2 331.0 L591.1 330.7 L592.0 330.3 L592.9 329.8 L593.8 329.3 L594.6 328.7 L595.5 328.1 L596.4 327.6 L597.3 327.0 L598.2 326.6 L599.1 326.2 L600.0 326.0 L600.9 325.9 L601.9 325.7 L602.9 325.6 L603.9 325.5 L604.9 325.4 L605.9 325.3 L606.9 325.2 L607.9 325.1 L608.9 325.1 L609.9 325.0 L611.0 325.0 L612.0 325.0 L613.0 325.0 L614.0 325.0 L615.0 325.0 L616.0 325.0 L617.0 325.0 L618.0 325.0 L619.0 325.0 L620.0 325.0 L621.0 325.0 L622.0 325.0 L623.0 325.0 L624.0 325.0 L625.0 325.0 L626.0 325.0 L626.9 325.0 L627.9 324.9 L628.9 324.9 L629.9 324.9 L630.9 324.8 L631.9 324.7 L632.9 324.6 L633.9 324.6 L634.9 324.5 L635.9 324.4 L636.9 324.3 L637.9 324.2 L638.9 324.1 L639.9 324.0 L640.9 323.9 L641.9 323.7 L642.9 323.6 L643.9 323.5 L644.9 323.4 L645.9 323.3 L646.9 323.2 L647.9 323.2 L648.9 323.1 L649.9 323.0 L650.9 322.9 L651.9 322.9 L652.9 322.8 L653.9 322.7 L654.9 322.6 L655.9 322.6 L656.9 322.5 L657.9 322.4 L658.9 322.3 L659.9 322.2 L660.9 322.2 L661.8 322.1 L662.8 322.0 L663.8 321.9 L664.8 321.9 L665.8 321.8 L666.8 321.8 L667.8 321.7 L668.8 321.7 L669.8 321.6 L670.8 321.6 L671.8 321.5 L672.8 321.5 L673.8 321.5 L674.8 321.5 L675.8 321.5 L676.8 321.5 L677.8 321.5 L678.8 321.6 L679.8 321.6 L680.9 321.7 L681.9 321.7 L682.9 321.8 L683.9 321.9 L684.9 322.0 L685.9 322.1 L686.9 322.2 L687.8 322.3 L688.8 322.4 L689.8 322.5 L690.8 322.6 L691.7 322.8 L692.7 323.1 L693.6 323.4 L694.6 323.7 L695.5 324.1 L696.5 324.5 L697.4 324.9 L698.3 325.3 L699.3 325.7 L700.2 326.1 L701.1 326.5 L702.0 326.9 L702.9 327.3 L703.8 327.7 L704.7 328.2 L705.6 328.7 L706.5 329.1 L707.3 329.6 L708.0 330.0"/>
</g>
<g fill="none" stroke="#0a0a0a" stroke-width="1.3" stroke-dasharray="1.35 1.45" stroke-linejoin="round">
<path d="M103.4 580.0 L103.4 579.0 L103.4 578.0 L103.4 577.0 L103.4 576.0 L103.5 575.0 L103.5 574.0 L103.5 573.0 L103.5 572.0 L103.5 571.0 L103.5 570.0 L103.5 569.0 L103.5 568.0 L103.5 567.0 L103.5 566.0 L103.6 565.0 L103.6 564.0 L103.6 563.0 L103.6 562.0 L103.6 561.0 L103.6 560.0 L103.6 559.0 L103.6 558.0 L103.6 557.0 L103.6 556.0 L103.6 555.0 L103.7 554.0 L103.7 553.0 L103.7 552.0 L103.7 551.0 L103.7 550.0 L103.7 549.0 L103.7 548.0 L103.7 547.0 L103.7 546.0 L103.7 545.0 L103.8 544.0 L103.8 543.0 L103.8 542.0 L103.8 541.0 L103.8 540.0 L103.8 539.0 L103.8 538.0 L103.8 537.0 L103.8 536.0 L103.8 535.0 L103.8 534.0 L103.9 533.0 L103.9 532.0 L103.9 531.0 L103.9 530.0 L103.9 529.0 L103.9 528.0 L103.9 527.0 L103.9 526.0 L103.9 525.0 L103.9 524.0 L103.9 523.0 L104.0 522.0 L104.0 521.0 L104.0 520.0 L104.0 519.0 L104.0 518.0 L104.0 517.0 L104.0 516.0 L104.0 515.0 L104.0 514.0 L104.0 513.0 L104.0 512.0 L104.1 511.0 L104.1 510.0 L104.1 509.0 L104.1 508.0 L104.1 507.0 L104.1 506.0 L104.1 505.0 L104.1 504.0 L104.1 503.0 L104.1 502.0 L104.1 501.0 L104.1 500.0 L104.2 499.0 L104.2 498.0 L104.2 497.0 L104.2 496.0 L104.2 495.0 L104.2 494.0 L104.2 493.0 L104.2 492.0 L104.2 491.0 L104.2 490.0 L104.2 489.0 L104.2 488.0 L104.2 487.0 L104.3 486.0 L104.3 485.0 L104.3 484.0 L104.3 483.0 L104.3 482.0 L104.3 481.0 L104.3 480.0 L104.3 479.0 L104.3 478.0 L104.3 477.0 L104.3 476.0 L104.3 475.0 L104.3 474.0 L104.3 473.0 L104.4 472.0 L104.4 471.0 L104.4 470.0 L104.4 469.0 L104.4 468.0 L104.4 467.0 L104.4 466.0 L104.4 465.0 L104.4 464.0 L104.4 463.0 L104.4 462.0 L104.4 461.0 L104.4 460.0 L104.4 459.0 L104.4 458.0 L104.4 457.0 L104.4 456.0 L104.4 455.0 L104.5 454.0 L104.5 453.0 L104.5 452.0 L104.5 451.0 L104.5 450.0 L104.5 449.0 L104.5 448.0 L104.5 447.0 L104.5 446.0 L104.5 445.0 L104.5 444.0 L104.5 443.0 L104.5 442.0 L104.5 441.0 L104.5 440.0 L104.5 439.0 L104.5 438.0 L104.5 437.0 L104.5 436.0 L104.5 435.0 L104.5 434.0 L104.5 433.0 L104.5 432.0 L104.5 431.0 L104.6 430.0 L104.6 429.0 L104.6 428.0 L104.6 427.0 L104.6 426.0 L104.6 425.0 L104.6 424.0 L104.6 423.0 L104.6 422.0 L104.6 421.0 L104.6 420.0 L104.6 419.0 L104.6 418.0 L104.6 417.0 L104.6 416.0 L104.6 415.0 L104.6 414.0 L104.6 413.0 L104.6 412.0 L104.6 411.0 L104.6 410.0 L104.7 409.0 L104.7 408.0 L104.7 407.0 L104.7 406.0 L104.7 405.0 L104.7 404.0 L104.7 403.0 L104.7 402.0 L104.7 401.0 L104.7 400.0 L104.7 399.0 L104.7 398.0 L104.7 397.0 L104.7 396.0 L104.7 395.0 L104.8 394.0 L104.8 393.0 L104.8 392.0 L104.8 391.0 L104.8 390.0 L104.8 389.0 L104.8 388.0 L104.8 387.0 L104.8 386.0 L104.8 385.0 L104.8 384.0 L104.9 383.0 L104.9 382.0 L104.9 381.0 L104.9 380.0 L104.9 379.0 L104.9 378.0 L104.9 377.0 L104.9 376.0 L104.9 375.0 L105.0 374.0 L105.0 373.0 L105.0 372.0 L105.0 371.0 L105.0 370.0 L105.0 369.0 L105.0 368.0 L105.1 367.0 L105.1 366.0 L105.1 365.0 L105.1 364.0 L105.2 363.0 L105.2 362.0 L105.3 361.0 L105.3 360.0 L105.3 359.0 L105.4 358.0 L105.4 357.0 L105.5 356.0 L105.5 355.0 L105.6 354.0 L105.6 353.0 L105.7 352.0 L105.8 351.0 L105.8 350.0 L105.9 349.0 L105.9 348.0 L106.0 347.0 L106.0 346.0 L106.1 345.0 L106.1 344.0 L106.2 343.0 L106.2 342.0 L106.3 341.0 L106.3 340.0 L106.3 339.0 L106.4 338.0 L106.4 337.0 L106.5 336.0 L106.5 335.0 L106.5 334.0 L106.6 333.0 L106.6 332.0 L106.7 331.0 L106.7 330.0 L106.7 329.0 L106.8 328.0 L106.8 327.0 L106.9 326.0 L106.9 325.0 L106.9 324.0 L107.0 323.0 L107.0 322.0 L107.0 321.0 L107.1 320.0 L107.1 319.1 L107.2 318.1 L107.2 317.1 L107.3 316.1 L107.3 315.1 L107.3 314.1 L107.4 313.1 L107.4 312.1 L107.5 311.1 L107.5 310.1 L107.6 309.1 L107.6 308.1 L107.7 307.1 L107.7 306.1 L107.8 305.1 L107.8 304.1 L107.9 303.1 L107.9 302.1 L107.9 301.1 L108.0 300.1 L108.0 299.1 L108.1 298.1 L108.1 297.1 L108.2 296.1 L108.2 295.1 L108.3 294.1 L108.3 293.1 L108.4 292.1 L108.4 291.1 L108.5 290.1 L108.5 289.1 L108.6 288.1 L108.6 287.1 L108.7 286.1 L108.7 285.1 L108.8 284.1 L108.8 283.1 L108.9 282.1 L108.9 281.1 L109.0 280.1 L109.0 279.1 L109.1 278.1 L109.2 277.1 L109.2 276.1 L109.3 275.1 L109.3 274.1 L109.4 273.1 L109.4 272.1 L109.5 271.1 L109.5 270.1 L109.6 269.1 L109.6 268.1 L109.7 267.1 L109.7 266.1 L109.8 265.1 L109.9 264.1 L109.9 263.1 L110.0 262.1 L110.0 261.1 L110.1 260.1 L110.2 259.1 L110.2 258.1 L110.3 257.1 L110.3 256.1 L110.4 255.1 L110.5 254.1 L110.5 253.1 L110.6 252.1 L110.7 251.1 L110.7 250.1 L110.8 249.1 L110.9 248.2 L110.9 247.2 L111.0 246.2 L111.1 245.2 L111.2 244.2 L111.2 243.2 L111.3 242.2 L111.4 241.2 L111.4 240.2 L111.5 239.2 L111.6 238.2 L111.7 237.2 L111.8 236.2 L111.8 235.2 L111.9 234.2 L112.0 233.2 L112.1 232.2 L112.2 231.2 L112.2 230.2 L112.3 229.2 L112.4 228.2 L112.5 227.2 L112.6 226.2 L112.7 225.2 L112.8 224.2 L112.9 223.2 L113.0 222.2 L113.1 221.2 L113.2 220.2 L113.3 219.2 L113.4 218.3 L113.5 217.3 L113.6 216.3 L113.7 215.3 L113.8 214.3 L113.9 213.3 L114.1 212.3 L114.2 211.3 L114.3 210.3 L114.5 209.3 L114.6 208.3 L114.7 207.3 L114.9 206.4 L115.0 205.4 L115.2 204.4 L115.3 203.4 L115.5 202.4 L115.6 201.4 L115.8 200.4 L115.9 199.4 L116.1 198.4 L116.2 197.4 L116.4 196.5 L116.5 195.5 L116.7 194.5 L116.8 193.5 L117.0 192.5 L117.1 191.5 L117.3 190.5 L117.4 189.5 L117.6 188.6 L117.7 187.6 L117.9 186.6 L118.0 185.6 L118.2 184.6 L118.3 183.6 L118.5 182.6 L118.7 181.6 L118.8 180.6 L119.0 179.7 L119.1 178.7 L119.3 177.7 L119.5 176.7 L119.6 175.7 L119.8 174.7 L119.9 173.7 L120.1 172.8 L120.3 171.8 L120.4 170.8 L120.6 169.8 L120.7 168.8 L120.9 167.8 L121.1 166.8 L121.2 165.8 L121.4 164.9 L121.6 163.9 L121.7 162.9 L121.9 161.9 L122.1 160.9 L122.2 159.9 L122.4 158.9 L122.6 158.0 L122.7 157.0 L122.9 156.0 L123.1 155.0 L123.2 154.0 L123.4 153.0 L123.6 152.0 L123.8 151.1 L123.9 150.1 L124.1 149.1 L124.3 148.1 L124.5 147.1 L124.7 146.1 L124.9 145.2 L125.1 144.2 L125.3 143.2 L125.5 142.2 L125.7 141.2 L125.9 140.3 L126.1 139.3 L126.3 138.3 L126.5 137.3 L126.7 136.3 L126.9 135.4 L127.1 134.4 L127.4 133.4 L127.6 132.4 L127.8 131.5 L128.0 130.5 L128.3 129.5 L128.5 128.5 L128.7 127.6 L129.0 126.6 L129.2 125.6 L129.5 124.7 L129.7 123.7 L130.0 122.7 L130.2 121.8 L130.5 120.8 L130.7 119.8 L131.0 118.9 L131.3 117.9 L131.6 117.0 L131.8 116.0 L132.1 115.0 L132.4 114.1 L132.7 113.1 L133.0 112.2 L133.3 111.2 L133.6 110.2 L133.9 109.3 L134.2 108.3 L134.5 107.4 L134.9 106.4 L135.2 105.5 L135.5 104.6 L135.8 103.6 L136.2 102.7 L136.5 101.7 L136.9 100.8 L137.2 99.8 L137.5 98.9 L137.9 98.0 L138.2 97.0 L138.6 96.1 L139.0 95.2 L139.3 94.2 L139.7 93.3 L140.0 92.4 L140.4 91.4 L140.8 90.5 L141.2 89.6 L141.6 88.6 L142.0 87.7 L142.4 86.8 L142.8 85.9 L143.2 85.0 L143.6 84.0 L144.0 83.1 L144.4 82.2 L144.9 81.4 L145.3 80.5 L145.8 79.6 L146.3 78.7 L146.7 77.8 L147.2 77.0 L147.7 76.1 L148.2 75.2 L148.8 74.4 L149.3 73.5 L149.8 72.7 L150.4 71.8 L151.0 71.0 L151.5 70.2 L152.1 69.4 L152.7 68.6 L153.3 67.7 L153.9 67.0 L154.5 66.2 L155.1 65.4 L155.8 64.6 L156.4 63.9 L157.1 63.1 L157.7 62.4 L158.4 61.6 L159.1 60.9 L159.8 60.2 L160.5 59.5 L161.3 58.8 L162.0 58.1 L162.7 57.4 L163.5 56.8 L164.2 56.1 L165.0 55.5 L165.8 54.9 L166.6 54.2 L167.4 53.6 L168.2 53.0 L169.0 52.4 L169.8 51.9 L170.7 51.3 L171.5 50.8 L172.4 50.3 L173.2 49.8 L174.1 49.3 L175.0 48.8 L175.9 48.4 L176.8 47.9 L177.7 47.5 L178.6 47.1 L179.5 46.7 L180.4 46.3 L181.4 45.9 L182.3 45.6 L183.3 45.3 L184.2 45.0 L185.2 44.6 L186.1 44.3 L187.1 44.0 L188.1 43.7 L189.0 43.4 L190.0 43.2 L191.0 43.1 L192.0 43.0 L193.0 43.0 L194.0 43.0 L195.0 43.1 L196.0 43.1 L197.0 43.1 L198.0 43.2 L199.0 43.3 L200.0 43.3 L201.0 43.4 L202.0 43.5 L203.0 43.6 L204.0 43.7 L204.9 43.8 L205.9 43.9 L206.9 44.1 L207.9 44.3 L208.9 44.5 L209.9 44.7 L210.8 44.9 L211.8 45.2 L212.8 45.4 L213.8 45.7 L214.7 45.9 L215.7 46.2 L216.7 46.4 L217.6 46.7 L218.6 47.0 L219.6 47.3 L220.5 47.6 L221.5 48.0 L222.4 48.3 L223.4 48.7 L224.3 49.0 L225.2 49.4 L226.0 49.9 L226.9 50.3 L227.7 50.8 L228.6 51.4 L229.4 51.9 L230.2 52.5 L231.0 53.1 L231.8 53.7 L232.6 54.4 L233.4 55.0 L234.2 55.6 L235.0 56.2 L235.9 56.8 L236.7 57.4 L237.5 58.0 L238.3 58.5 L239.1 59.1 L240.0 59.7 L240.8 60.2 L241.6 60.8 L242.4 61.4 L243.3 61.9 L244.1 62.5 L244.9 63.1 L245.7 63.6 L246.6 64.2 L247.4 64.7 L248.2 65.3 L249.1 65.8 L249.9 66.4 L250.7 66.9 L251.6 67.5 L252.4 68.0 L253.3 68.6 L254.1 69.1 L254.9 69.7 L255.7 70.2 L256.6 70.8 L257.4 71.4 L258.2 71.9 L259.0 72.5 L259.9 73.1 L260.7 73.6 L261.5 74.2 L262.3 74.8 L263.1 75.4 L264.0 76.0 L264.8 76.5 L265.6 77.1 L266.4 77.7 L267.2 78.2 L268.1 78.8 L268.9 79.3 L269.8 79.9 L270.6 80.4 L271.4 81.0 L272.3 81.5 L273.1 82.1 L274.0 82.6 L274.9 83.1 L275.7 83.6 L276.6 84.0 L277.5 84.5 L278.4 84.9 L279.3 85.2 L280.2 85.6 L281.2 86.0 L282.1 86.4 L283.1 86.7 L284.0 87.0 L285.0 87.3 L286.0 87.6 L286.9 87.8 L287.9 88.0 L288.9 88.2 L289.8 88.4 L290.8 88.6 L291.8 88.7 L292.8 88.9 L293.8 89.0 L294.8 89.2 L295.8 89.3 L296.8 89.5 L297.8 89.7 L298.7 89.9 L299.7 90.0 L300.7 90.2 L301.7 90.4 L302.7 90.5 L303.7 90.7 L304.7 90.9 L305.7 91.1 L306.6 91.3 L307.6 91.5 L308.6 91.8 L309.5 92.0 L310.5 92.3 L311.4 92.6 L312.4 93.0 L313.3 93.4 L314.2 93.7 L315.2 94.1 L316.1 94.6 L317.0 95.0 L317.9 95.4 L318.7 95.9 L319.6 96.4 L320.5 96.9 L321.3 97.4 L322.2 98.0 L323.0 98.5 L323.8 99.1 L324.6 99.7 L325.4 100.4 L326.2 101.0 L327.0 101.6 L327.7 102.3 L328.4 102.9 L329.1 103.6 L329.8 104.4 L330.5 105.1 L331.2 105.9 L331.8 106.6 L332.5 107.4 L333.1 108.2 L333.8 109.0 L334.4 109.7 L335.0 110.5 L335.6 111.3 L336.2 112.1 L336.7 113.0 L337.3 113.8 L337.9 114.6 L338.4 115.4 L339.0 116.3 L339.5 117.1 L340.0 118.0 L340.6 118.8 L341.1 119.7 L341.6 120.5 L342.2 121.4 L342.7 122.2 L343.2 123.1 L343.8 123.9 L344.3 124.8 L344.8 125.6 L345.4 126.5 L345.9 127.3 L346.4 128.2 L346.9 129.0 L347.4 129.9 L347.9 130.8 L348.4 131.6 L348.9 132.5 L349.4 133.4 L349.8 134.3 L350.3 135.2 L350.7 136.1 L351.2 137.0 L351.6 137.9 L352.0 138.8 L352.5 139.7 L352.9 140.6 L353.4 141.5 L353.8 142.4 L354.2 143.3 L354.7 144.1 L355.2 145.0 L355.6 145.9 L356.1 146.8 L356.6 147.6 L357.1 148.5 L357.6 149.4 L358.1 150.2 L358.7 151.1 L359.2 152.0 L359.7 152.8 L360.3 153.7 L360.8 154.5 L361.4 155.3 L362.0 156.2 L362.6 157.0 L363.2 157.7 L363.8 158.5 L364.5 159.2 L365.1 160.0 L365.8 160.7 L366.5 161.4 L367.3 162.1 L368.0 162.8 L368.8 163.5 L369.6 164.1 L370.4 164.7 L371.2 165.2 L372.1 165.6 L373.0 166.0 L373.9 166.4 L374.9 166.7 L375.8 167.0 L376.8 167.3 L377.8 167.7 L378.7 168.0 L379.7 168.4 L380.6 168.8 L381.5 169.2 L382.4 169.7 L383.3 170.2 L384.2 170.7 L385.0 171.2 L385.9 171.8 L386.7 172.4 L387.4 173.0 L388.1 173.7 L388.7 174.4 L389.3 175.1 L389.9 176.0 L390.5 176.8 L391.0 177.7 L391.5 178.6 L392.0 179.5 L392.5 180.4 L392.9 181.3 L393.3 182.3 L393.7 183.2 L394.0 184.1 L394.3 185.0 L394.6 186.0 L394.9 186.9 L395.2 187.9 L395.5 188.9 L395.7 189.8 L396.0 190.8 L396.2 191.8 L396.4 192.8 L396.7 193.8 L396.9 194.7 L397.1 195.7 L397.4 196.7 L397.6 197.7 L397.8 198.6 L398.0 199.6 L398.3 200.6 L398.5 201.6 L398.7 202.5 L398.9 203.5 L399.1 204.5 L399.3 205.5 L399.5 206.5 L399.7 207.4 L399.9 208.4 L400.1 209.4 L400.3 210.4 L400.4 211.4 L400.6 212.3 L400.8 213.3 L401.0 214.3 L401.1 215.3 L401.3 216.3 L401.5 217.3 L401.6 218.3 L401.8 219.2 L401.9 220.2 L402.1 221.2 L402.3 222.2 L402.4 223.2 L402.6 224.2 L402.7 225.2 L402.9 226.2 L403.0 227.2 L403.2 228.1 L403.3 229.1 L403.4 230.1 L403.6 231.1 L403.7 232.1 L403.9 233.1 L404.0 234.1 L404.1 235.1 L404.3 236.1 L404.4 237.1 L404.5 238.0 L404.7 239.0 L404.8 240.0 L404.9 241.0 L405.1 242.0 L405.2 243.0 L405.3 244.0 L405.5 245.0 L405.6 246.0 L405.7 247.0 L405.8 248.0 L406.0 249.0 L406.1 249.9 L406.2 250.9 L406.3 251.9 L406.5 252.9 L406.6 253.9 L406.7 254.9 L406.8 255.9 L406.9 256.9 L407.1 257.9 L407.2 258.9 L407.3 259.9 L407.4 260.9 L407.5 261.9 L407.6 262.9 L407.7 263.9 L407.8 264.9 L408.0 265.8 L408.1 266.8 L408.2 267.8 L408.3 268.8 L408.4 269.8 L408.5 270.8 L408.7 271.8 L408.8 272.8 L408.9 273.8 L409.0 274.8 L409.2 275.8 L409.3 276.8 L409.4 277.8 L409.6 278.8 L409.7 279.7 L409.8 280.7 L410.0 281.7 L410.1 282.7 L410.3 283.7 L410.4 284.7 L410.6 285.7 L410.7 286.7 L410.9 287.7 L411.0 288.7 L411.2 289.7 L411.4 290.7 L411.5 291.7 L411.7 292.7 L411.9 293.7 L412.1 294.7 L412.3 295.6 L412.5 296.6 L412.7 297.6 L412.9 298.6 L413.1 299.5 L413.4 300.5 L413.6 301.4 L413.9 302.4 L414.2 303.3 L414.6 304.3 L415.0 305.5 L415.4 306.6 L416.0 307.8 L416.5 308.8 L417.1 309.8 L417.6 310.5 L418.1 311.0 L418.7 311.2 L419.2 311.1 L419.7 310.6 L420.2 309.9 L420.7 309.0 L421.3 307.9 L421.8 306.8 L422.3 305.6 L422.7 304.5 L423.1 303.5 L423.5 302.5 L423.8 301.6 L424.1 300.7 L424.4 299.7 L424.7 298.8 L424.9 297.8 L425.2 296.8 L425.4 295.9 L425.6 294.9 L425.9 293.9 L426.1 292.9 L426.3 291.9 L426.5 290.9 L426.8 289.9 L427.0 288.9 L427.2 288.0 L427.5 287.0 L427.7 286.0 L428.0 285.1 L428.3 284.1 L428.6 283.2 L429.0 282.3 L429.3 281.3 L429.7 280.3 L430.0 279.3 L430.4 278.4 L430.8 277.4 L431.3 276.4 L431.7 275.5 L432.2 274.6 L432.7 273.8 L433.3 273.0 L433.8 272.2 L434.4 271.6 L435.2 270.9 L436.1 270.2 L437.0 269.7 L437.9 269.4 L438.6 269.5 L439.4 269.9 L440.1 270.6 L440.8 271.5 L441.4 272.6 L441.9 273.6 L442.4 274.6 L442.8 275.5 L443.1 276.4 L443.4 277.3 L443.7 278.2 L444.0 279.1 L444.3 280.1 L444.5 281.0 L444.7 282.0 L444.9 283.0 L445.2 284.0 L445.4 285.0 L445.5 286.0 L445.7 287.0 L445.9 288.0 L446.1 289.0 L446.3 290.0 L446.4 291.1 L446.6 292.1 L446.8 293.1 L447.0 294.1 L447.2 295.1 L447.4 296.0 L447.6 297.0 L447.8 298.0 L448.0 299.0 L448.2 300.0 L448.4 300.9 L448.5 301.9 L448.7 302.9 L448.9 303.9 L449.1 304.9 L449.3 305.9 L449.4 306.8 L449.6 307.8 L449.8 308.8 L450.0 309.8 L450.2 310.8 L450.3 311.8 L450.5 312.7 L450.7 313.7 L450.9 314.7 L451.1 315.7 L451.3 316.7 L451.5 317.6 L451.7 318.6 L451.9 319.6 L452.1 320.6 L452.3 321.6 L452.5 322.6 L452.7 323.6 L452.9 324.6 L453.1 325.6 L453.3 326.6 L453.6 327.6 L453.8 328.5 L454.0 329.5 L454.3 330.5 L454.6 331.4 L454.9 332.4 L455.2 333.3 L455.5 334.2 L456.0 335.0 L456.5 335.9 L457.1 336.7 L457.7 337.5 L458.3 338.2 L462.0 340.1 L463.0 339.7 L464.0 338.6 L465.0 336.8 L466.0 334.3 L467.0 331.2 L468.0 327.7 L469.0 323.8 L470.0 319.7 L471.0 315.5 L472.0 311.2 L473.0 307.2 L474.0 303.4 L475.0 300.1 L476.0 297.2 L477.0 295.0 L478.0 293.5 L479.0 292.6 L479.6 292.5 L480.6 292.8 L481.6 293.8 L482.6 295.4 L483.6 297.5 L484.6 300.2 L485.6 303.4 L486.6 306.9 L487.6 310.8 L488.6 314.9 L489.6 319.1 L490.6 323.3 L491.6 327.5 L492.6 331.5 L493.6 335.2 L494.6 338.6 L495.6 341.6 L496.6 344.1 L497.6 346.0 L498.6 347.4 L499.6 348.1 L500.2 348.2 L501.2 347.9 L502.2 346.9 L503.2 345.4 L504.2 343.3 L505.2 340.7 L506.2 337.7 L507.2 334.4 L508.2 330.8 L509.2 327.1 L510.2 323.4 L511.2 319.7 L512.2 316.2 L513.2 313.0 L514.2 310.2 L515.2 307.8 L516.2 305.9 L517.2 304.6 L518.2 303.9 L518.8 303.8 L519.8 304.0 L520.8 304.8 L521.8 306.0 L522.8 307.7 L523.8 309.7 L524.8 312.2 L525.8 314.9 L526.8 317.9 L527.8 321.1 L528.8 324.5 L529.8 327.8 L530.8 331.2 L531.8 334.4 L532.8 337.5 L533.8 340.3 L534.8 342.9 L535.8 345.1 L536.8 346.8 L537.8 348.2 L538.8 349.1 L539.8 349.5 L540.1 349.5 L541.1 349.2 L542.1 348.5 L543.1 347.2 L544.1 345.5 L545.1 343.3 L546.1 340.8 L547.1 338.0 L548.1 335.1 L549.1 332.0 L550.1 328.8 L551.1 325.7 L552.1 322.8 L553.1 320.1 L554.1 317.6 L555.1 315.6 L556.1 313.9 L557.1 312.7 L558.1 312.1 L558.9 311.9 L559.9 312.2 L560.9 313.0 L561.9 314.3 L562.9 316.0 L563.9 318.2 L564.9 320.8 L565.9 323.7 L566.9 326.8 L567.9 330.1 L568.9 333.5 L569.9 336.9 L570.9 340.2 L571.9 343.3 L572.9 346.2 L573.9 348.8 L574.9 351.0 L575.9 352.7 L576.9 354.0 L577.9 354.8 L578.9 355.1 L579.9 354.8 L580.9 354.0 L581.9 352.7 L582.9 351.0 L583.9 348.8 L584.9 346.3 L585.9 343.5 L586.9 340.4 L587.9 337.3 L588.9 334.1 L589.9 331.0 L590.9 328.0 L591.9 325.2 L592.9 322.7 L593.9 320.6 L594.9 319.0 L595.9 317.8 L596.9 317.1 L597.7 316.9 L598.7 317.2 L599.7 317.9 L600.7 319.1 L601.7 320.8 L602.7 322.8 L603.7 325.3 L604.7 327.9 L605.7 330.8 L606.7 333.9 L607.7 336.9 L608.7 340.0 L609.7 342.9 L610.7 345.6 L611.7 348.1 L612.7 350.2 L613.7 352.0 L614.7 353.3 L615.7 354.1 L616.7 354.5 L616.9 354.5 L617.9 354.3 L618.9 353.6 L619.9 352.5 L620.9 351.1 L621.9 349.3 L622.9 347.1 L623.9 344.8 L624.9 342.2 L625.9 339.5 L626.9 336.8 L627.9 334.1 L628.9 331.5 L629.9 329.0 L630.9 326.8 L631.9 324.8 L632.9 323.2 L633.9 322.0 L634.9 321.1 L635.9 320.7 L636.3 320.7 L637.3 320.9 L638.3 321.6 L639.3 322.7 L640.3 324.1 L641.3 326.0 L642.3 328.1 L643.3 330.5 L644.3 333.1 L645.3 335.9 L646.3 338.7 L647.3 341.5 L648.3 344.3 L649.3 346.9 L650.3 349.4 L651.3 351.5 L652.3 353.4 L653.3 354.9 L654.3 356.0 L655.3 356.7 L656.3 357.0 L656.4 357.0 L657.4 356.7 L658.4 355.9 L659.4 354.6 L660.4 352.8 L661.4 350.5 L662.4 348.0 L663.4 345.1 L664.4 342.1 L665.4 339.0 L666.4 336.0 L667.4 333.0 L668.4 330.3 L669.4 327.9 L670.4 325.9 L671.4 324.3 L672.4 323.2 L673.4 322.7 L673.9 322.6 L674.9 322.8 L675.9 323.4 L676.9 324.3 L677.9 325.6 L678.9 327.2 L679.9 329.1 L680.9 331.3 L681.9 333.6 L682.9 336.1 L683.9 338.6 L684.9 341.2 L685.9 343.7 L686.9 346.1 L687.9 348.4 L688.9 350.5 L689.9 352.3 L690.9 353.8 L691.9 355.0 L692.9 355.8 L693.9 356.3 L694.6 356.4 L695.6 356.2 L696.6 355.5 L697.6 354.3 L698.6 352.8 L699.6 350.9 L700.6 348.6 L701.6 346.2 L702.6 343.6 L703.6 340.9 L704.6 338.2 L705.6 335.6 L706.6 333.2 L707.6 331.0 L708.6 329.2 L709.6 327.6 L710.6 326.5 L711.6 325.9 L712.5 325.7 L713.5 325.9 L714.5 326.5 L715.5 327.4 L716.5 328.7 L717.5 330.2 L718.5 332.1 L719.5 334.2 L720.5 336.4 L721.5 338.8 L722.5 341.2 L723.5 343.7 L724.5 346.0 L725.5 348.3 L726.5 350.4 L727.5 352.3 L728.5 353.9 L729.5 355.2 L730.5 356.2 L731.5 356.8 L732.5 357.0 L732.6 357.0 L733.6 356.8 L734.6 356.2 L735.6 355.2 L736.6 353.8 L737.6 352.1 L738.6 350.1 L739.6 347.9 L740.6 345.5 L741.6 343.0 L742.6 340.5 L743.6 338.0 L744.6 335.7 L745.6 333.5 L746.6 331.6 L747.6 329.9 L748.6 328.6 L749.6 327.7 L750.6 327.1 L751.4 327.0 L752.4 327.2 L753.4 327.7 L754.4 328.6 L755.4 329.8 L756.4 331.3 L757.4 333.1 L758.4 335.0 L759.4 337.2 L760.4 339.4 L761.4 341.7 L762.4 344.0 L763.4 346.2 L764.4 348.4 L765.4 350.3 L766.4 352.1 L767.4 353.6 L768.4 354.8 L769.4 355.7 L770.4 356.2 L771.4 356.4 L772.4 356.2 L773.4 355.6 L774.4 354.7 L775.4 353.4 L776.4 351.8 L777.4 349.9 L778.4 347.8 L779.4 345.6 L780.4 343.2 L781.4 340.9 L782.4 338.6 L783.4 336.4 L784.4 334.3 L785.4 332.5 L786.4 330.9 L787.4 329.7 L788.4 328.8 L789.4 328.3 L790.2 328.2 L791.2 328.4 L792.2 328.9 L793.2 329.7 L794.2 330.8 L795.2 332.3 L796.2 333.9 L797.2 335.8 L798.2 337.8 L799.2 339.9 L800.2 342.1 L801.2 344.4 L802.2 346.5 L803.2 348.6 L804.2 350.6 L805.2 352.3 L806.2 353.9 L807.2 355.2 L808.2 356.1 L809.2 356.8 L810.2 357.2 L810.7 357.2 L811.7 357.0 L812.7 356.5 L813.7 355.5 L814.7 354.3 L815.7 352.8 L816.7 351.0 L817.7 349.0 L818.7 346.9 L819.7 344.6 L820.7 342.4 L821.7 340.1 L822.7 338.0 L823.7 336.0 L824.7 334.2 L825.7 332.7 L826.7 331.5 L827.7 330.5 L828.7 330.0 L829.7 329.8"/>
<path d="M103.4 580.0 L103.4 579.0 L103.4 578.0 L103.4 577.0 L103.4 576.0 L103.5 575.0 L103.5 574.0 L103.5 573.0 L103.5 572.0 L103.5 571.0 L103.5 570.0 L103.5 569.0 L103.5 568.0 L103.5 567.0 L103.5 566.0 L103.6 565.0 L103.6 564.0 L103.6 563.0 L103.6 562.0 L103.6 561.0 L103.6 560.0 L103.6 559.0 L103.6 558.0 L103.6 557.0 L103.6 556.0 L103.6 555.0 L103.7 554.0 L103.7 553.0 L103.7 552.0 L103.7 551.0 L103.7 550.0 L103.7 549.0 L103.7 548.0 L103.7 547.0 L103.7 546.0 L103.7 545.0 L103.8 544.0 L103.8 543.0 L103.8 542.0 L103.8 541.0 L103.8 540.0 L103.8 539.0 L103.8 538.0 L103.8 537.0 L103.8 536.0 L103.8 535.0 L103.8 534.0 L103.9 533.0 L103.9 532.0 L103.9 531.0 L103.9 530.0 L103.9 529.0 L103.9 528.0 L103.9 527.0 L103.9 526.0 L103.9 525.0 L103.9 524.0 L103.9 523.0 L104.0 522.0 L104.0 521.0 L104.0 520.0 L104.0 519.0 L104.0 518.0 L104.0 517.0 L104.0 516.0 L104.0 515.0 L104.0 514.0 L104.0 513.0 L104.0 512.0 L104.1 511.0 L104.1 510.0 L104.1 509.0 L104.1 508.0 L104.1 507.0 L104.1 506.0 L104.1 505.0 L104.1 504.0 L104.1 503.0 L104.1 502.0 L104.1 501.0 L104.1 500.0 L104.2 499.0 L104.2 498.0 L104.2 497.0 L104.2 496.0 L104.2 495.0 L104.2 494.0 L104.2 493.0 L104.2 492.0 L104.2 491.0 L104.2 490.0 L104.2 489.0 L104.2 488.0 L104.2 487.0 L104.3 486.0 L104.3 485.0 L104.3 484.0 L104.3 483.0 L104.3 482.0 L104.3 481.0 L104.3 480.0 L104.3 479.0 L104.3 478.0 L104.3 477.0 L104.3 476.0 L104.3 475.0 L104.3 474.0 L104.3 473.0 L104.4 472.0 L104.4 471.0 L104.4 470.0 L104.4 469.0 L104.4 468.0 L104.4 467.0 L104.4 466.0 L104.4 465.0 L104.4 464.0 L104.4 463.0 L104.4 462.0 L104.4 461.0 L104.4 460.0 L104.4 459.0 L104.4 458.0 L104.4 457.0 L104.4 456.0 L104.4 455.0 L104.5 454.0 L104.5 453.0 L104.5 452.0 L104.5 451.0 L104.5 450.0 L104.5 449.0 L104.5 448.0 L104.5 447.0 L104.5 446.0 L104.5 445.0 L104.5 444.0 L104.5 443.0 L104.5 442.0 L104.5 441.0 L104.5 440.0 L104.5 439.0 L104.5 438.0 L104.5 437.0 L104.5 436.0 L104.5 435.0 L104.5 434.0 L104.5 433.0 L104.5 432.0 L104.5 431.0 L104.6 430.0 L104.6 429.0 L104.6 428.0 L104.6 427.0 L104.6 426.0 L104.6 425.0 L104.6 424.0 L104.6 423.0 L104.6 422.0 L104.6 421.0 L104.6 420.0 L104.6 419.0 L104.6 418.0 L104.6 417.0 L104.6 416.0 L104.6 415.0 L104.6 414.0 L104.6 413.0 L104.6 412.0 L104.6 411.0 L104.6 410.0 L104.7 409.0 L104.7 408.0 L104.7 407.0 L104.7 406.0 L104.7 405.0 L104.7 404.0 L104.7 403.0 L104.7 402.0 L104.7 401.0 L104.7 400.0 L104.7 399.0 L104.7 398.0 L104.7 397.0 L104.7 396.0 L104.7 395.0 L104.8 394.0 L104.8 393.0 L104.8 392.0 L104.8 391.0 L104.8 390.0 L104.8 389.0 L104.8 388.0 L104.8 387.0 L104.8 386.0 L104.8 385.0 L104.8 384.0 L104.9 383.0 L104.9 382.0 L104.9 381.0 L104.9 380.0 L104.9 379.0 L104.9 378.0 L104.9 377.0 L104.9 376.0 L104.9 375.0 L105.0 374.0 L105.0 373.0 L105.0 372.0 L105.0 371.0 L105.0 370.0 L105.0 369.0 L105.0 368.0 L105.1 367.0 L105.1 366.0 L105.1 365.0 L105.1 364.0 L105.2 363.0 L105.2 362.0 L105.3 361.0 L105.3 360.0 L105.3 359.0 L105.4 358.0 L105.4 357.0 L105.5 356.0 L105.5 355.0 L105.6 354.0 L105.6 353.0 L105.7 352.0 L105.8 351.0 L105.8 350.0 L105.9 349.0 L105.9 348.0 L106.0 347.0 L106.0 346.0 L106.1 345.0 L106.1 344.0 L106.2 343.0 L106.2 342.0 L106.3 341.0 L106.3 340.0 L106.3 339.0 L106.4 338.0 L106.4 337.0 L106.5 336.0 L106.5 335.0 L106.5 334.0 L106.6 333.0 L106.6 332.0 L106.7 331.0 L106.7 330.0 L106.7 329.0 L106.8 328.0 L106.8 327.0 L106.9 326.0 L106.9 325.0 L106.9 324.0 L107.0 323.0 L107.0 322.0 L107.0 321.0 L107.1 320.0 L107.1 319.1 L107.2 318.1 L107.2 317.1 L107.3 316.1 L107.3 315.1 L107.3 314.1 L107.4 313.1 L107.4 312.1 L107.5 311.1 L107.5 310.1 L107.6 309.1 L107.6 308.1 L107.7 307.1 L107.7 306.1 L107.8 305.1 L107.8 304.1 L107.9 303.1 L107.9 302.1 L107.9 301.1 L108.0 300.1 L108.0 299.1 L108.1 298.1 L108.1 297.1 L108.2 296.1 L108.2 295.1 L108.3 294.1 L108.3 293.1 L108.4 292.1 L108.4 291.1 L108.5 290.1 L108.5 289.1 L108.6 288.1 L108.6 287.1 L108.7 286.1 L108.7 285.1 L108.8 284.1 L108.8 283.1 L108.9 282.1 L108.9 281.1 L109.0 280.1 L109.0 279.1 L109.1 278.1 L109.1 277.1 L109.2 276.1 L109.2 275.1 L109.3 274.1 L109.3 273.1 L109.4 272.1 L109.4 271.1 L109.5 270.1 L109.5 269.1 L109.6 268.1 L109.7 267.1 L109.7 266.1 L109.8 265.1 L109.8 264.1 L109.9 263.1 L110.0 262.1 L110.0 261.1 L110.1 260.1 L110.1 259.1 L110.2 258.1 L110.3 257.1 L110.3 256.1 L110.4 255.1 L110.5 254.1 L110.5 253.1 L110.6 252.1 L110.7 251.1 L110.8 250.1 L110.8 249.2 L110.9 248.2 L111.0 247.2 L111.1 246.2 L111.2 245.2 L111.2 244.2 L111.3 243.2 L111.4 242.2 L111.5 241.2 L111.6 240.2 L111.7 239.2 L111.8 238.2 L111.9 237.2 L112.0 236.2 L112.1 235.2 L112.2 234.2 L112.3 233.2 L112.4 232.2 L112.5 231.2 L112.6 230.2 L112.7 229.2 L112.8 228.2 L112.9 227.2 L113.0 226.2 L113.2 225.2 L113.3 224.3 L113.4 223.3 L113.5 222.3 L113.6 221.3 L113.8 220.3 L113.9 219.3 L114.0 218.3 L114.2 217.3 L114.3 216.3 L114.4 215.3 L114.6 214.4 L114.8 213.4 L114.9 212.4 L115.1 211.4 L115.3 210.4 L115.5 209.4 L115.7 208.5 L115.9 207.5 L116.1 206.5 L116.3 205.5 L116.5 204.5 L116.7 203.6 L116.9 202.6 L117.1 201.6 L117.3 200.6 L117.4 199.6 L117.6 198.6 L117.8 197.7 L118.0 196.7 L118.1 195.7 L118.3 194.7 L118.5 193.7 L118.6 192.7 L118.8 191.7 L119.0 190.7 L119.1 189.8 L119.3 188.8 L119.5 187.8 L119.6 186.8 L119.8 185.8 L120.0 184.8 L120.1 183.8 L120.3 182.9 L120.5 181.9 L120.6 180.9 L120.8 179.9 L121.0 178.9 L121.2 177.9 L121.3 176.9 L121.5 176.0 L121.7 175.0 L121.9 174.0 L122.1 173.0 L122.3 172.0 L122.5 171.1 L122.7 170.1 L122.9 169.1 L123.1 168.1 L123.3 167.1 L123.5 166.2 L123.7 165.2 L123.9 164.2 L124.1 163.2 L124.4 162.2 L124.6 161.2 L124.8 160.3 L125.0 159.3 L125.3 158.3 L125.5 157.3 L125.8 156.3 L126.0 155.4 L126.3 154.4 L126.6 153.4 L126.8 152.5 L127.1 151.5 L127.4 150.6 L127.7 149.7 L128.1 148.7 L128.4 147.8 L128.7 146.9 L129.1 146.0 L129.5 145.0 L130.0 144.1 L130.4 143.2 L130.9 142.3 L131.4 141.4 L131.9 140.5 L132.4 139.6 L132.9 138.8 L133.5 137.9 L134.0 137.1 L134.6 136.3 L135.2 135.6 L135.9 134.8 L136.5 134.1 L137.2 133.3 L138.0 132.6 L138.8 131.9 L139.6 131.3 L140.4 130.7 L141.3 130.3 L142.1 130.0 L143.1 129.6 L144.0 129.3 L145.0 129.0 L146.0 128.8 L147.1 128.6 L148.0 128.5 L149.0 128.5 L150.0 128.6 L151.0 128.9 L152.0 129.2 L153.0 129.5 L153.9 129.9 L154.8 130.4 L155.6 130.8 L156.4 131.3 L157.2 131.9 L157.9 132.5 L158.6 133.3 L159.3 134.0 L160.0 134.8 L160.7 135.6 L161.4 136.4 L162.0 137.2 L162.7 137.9 L163.4 138.7 L164.0 139.4 L164.7 140.2 L165.3 141.0 L165.9 141.8 L166.5 142.6 L167.0 143.4 L167.5 144.3 L167.9 145.2 L168.4 146.0 L168.8 146.9 L169.2 147.9 L169.6 148.8 L170.0 149.7 L170.3 150.7 L170.7 151.6 L171.0 152.6 L171.4 153.5 L171.7 154.5 L172.1 155.4 L172.4 156.4 L172.7 157.3 L173.0 158.3 L173.3 159.2 L173.6 160.2 L174.0 161.1 L174.3 162.1 L174.6 163.0 L174.8 164.0 L175.1 164.9 L175.4 165.9 L175.7 166.8 L176.0 167.8 L176.2 168.8 L176.5 169.7 L176.8 170.7 L177.0 171.7 L177.3 172.6 L177.5 173.6 L177.8 174.6 L178.0 175.6 L178.3 176.5 L178.5 177.5 L178.8 178.5 L179.0 179.4 L179.3 180.4 L179.5 181.4 L179.7 182.4 L180.0 183.3 L180.2 184.3 L180.4 185.3 L180.7 186.2 L180.9 187.2 L181.1 188.2 L181.4 189.2 L181.6 190.1 L181.8 191.1 L182.0 192.1 L182.3 193.1 L182.5 194.0 L182.7 195.0 L182.9 196.0 L183.1 197.0 L183.3 197.9 L183.5 198.9 L183.7 199.9 L184.0 200.9 L184.1 201.9 L184.3 202.8 L184.5 203.8 L184.7 204.8 L184.9 205.8 L185.1 206.8 L185.3 207.8 L185.5 208.7 L185.6 209.7 L185.8 210.7 L186.0 211.7 L186.2 212.7 L186.4 213.7 L186.5 214.6 L186.7 215.6 L186.9 216.6 L187.0 217.6 L187.2 218.6 L187.3 219.6 L187.5 220.6 L187.7 221.6 L187.8 222.5 L188.0 223.5 L188.1 224.5 L188.3 225.5 L188.4 226.5 L188.6 227.5 L188.7 228.5 L188.8 229.5 L189.0 230.5 L189.1 231.4 L189.2 232.4 L189.4 233.4 L189.5 234.4 L189.6 235.4 L189.7 236.4 L189.8 237.4 L190.0 238.4 L190.1 239.4 L190.2 240.4 L190.3 241.4 L190.4 242.4 L190.5 243.4 L190.6 244.4 L190.7 245.3 L190.9 246.3 L191.0 247.3 L191.1 248.3 L191.2 249.3 L191.3 250.3 L191.4 251.3 L191.5 252.3 L191.6 253.3 L191.8 254.3 L191.9 255.3 L192.0 256.3 L192.1 257.3 L192.3 258.3 L192.4 259.3 L192.5 260.2 L192.6 261.2 L192.8 262.2 L192.9 263.2 L193.0 264.2 L193.2 265.2 L193.3 266.2 L193.4 267.2 L193.5 268.2 L193.7 269.2 L193.8 270.2 L193.9 271.2 L194.0 272.2 L194.1 273.1 L194.3 274.1 L194.4 275.1 L194.5 276.1 L194.6 277.1 L194.7 278.1 L194.8 279.1 L194.9 280.1 L195.0 281.1 L195.1 282.1 L195.2 283.1 L195.3 284.1 L195.4 285.1 L195.5 286.1 L195.6 287.1 L195.7 288.1 L195.7 289.1 L195.8 290.1 L195.9 291.1 L195.9 292.1 L196.0 293.1 L196.1 294.1 L196.1 295.0 L196.2 296.0 L196.2 297.0 L196.3 298.0 L196.3 299.0 L196.4 300.0 L196.4 301.0 L196.5 302.0 L196.5 303.0 L196.5 304.0 L196.6 305.0 L196.6 306.0 L196.7 307.0 L196.7 308.0 L196.8 309.0 L196.8 310.0 L196.9 311.0 L196.9 312.0 L197.0 313.0 L197.0 314.0 L197.1 315.0 L197.2 316.0 L197.2 317.0 L197.3 318.0 L197.4 319.0 L197.4 320.0 L197.5 321.0 L197.6 322.0 L197.6 323.0 L197.7 324.0 L197.8 325.0 L197.9 326.0 L197.9 327.0 L198.0 328.0 L198.1 329.0 L198.2 330.0 L198.3 331.0 L198.3 332.0 L198.4 333.0 L198.5 334.0 L198.6 335.0 L198.7 336.0 L198.7 337.0 L198.8 338.0 L198.9 339.0 L199.0 340.0 L199.1 341.0 L199.1 341.9 L199.2 342.9 L199.3 343.9 L199.4 344.9 L199.5 345.9 L199.5 346.9 L199.6 347.9 L199.7 348.9 L199.8 349.9 L199.8 350.9 L199.9 351.9 L200.0 352.9 L200.1 353.9 L200.1 354.9 L200.2 355.9 L200.3 356.9 L200.4 357.9 L200.5 358.9 L200.6 359.9 L200.6 360.9 L200.7 361.9 L200.8 362.9 L200.9 363.9 L201.0 364.9 L201.1 365.9 L201.2 366.9 L201.3 367.9 L201.4 368.9 L201.5 369.9 L201.6 370.8 L201.7 371.8 L201.8 372.8 L201.9 373.8 L202.0 374.8 L202.1 375.8 L202.2 376.8 L202.3 377.8 L202.4 378.8 L202.5 379.8 L202.6 380.8 L202.7 381.8 L202.9 382.8 L203.0 383.8 L203.1 384.8 L203.3 385.8 L203.4 386.8 L203.6 387.8 L203.8 388.7 L203.9 389.7 L204.1 390.7 L204.4 391.9 L204.7 393.2 L205.0 394.4 L205.4 395.5 L205.7 396.4 L206.1 397.0 L206.4 397.1 L206.7 396.8 L207.0 396.2 L207.3 395.4 L207.6 394.3 L207.9 393.1 L208.2 391.8 L208.4 390.6 L208.7 389.4 L208.9 388.3 L209.2 387.3 L209.4 386.3 L209.6 385.3 L209.8 384.4 L210.0 383.4 L210.2 382.4 L210.4 381.4 L210.6 380.4 L210.8 379.5 L211.0 378.5 L211.2 377.5 L211.4 376.5 L211.6 375.5 L211.7 374.5 L211.9 373.6 L212.1 372.6 L212.3 371.6 L212.4 370.6 L212.6 369.6 L212.8 368.6 L212.9 367.6 L213.1 366.6 L213.2 365.6 L213.4 364.6 L213.5 363.6 L213.6 362.6 L213.7 361.6 L213.9 360.6 L214.0 359.6 L214.1 358.6 L214.3 357.6 L214.4 356.6 L214.5 355.6 L214.7 354.7 L214.8 353.7 L215.0 352.7 L215.2 351.7 L215.3 350.7 L215.5 349.8 L215.7 348.8 L216.0 347.8 L216.2 346.9 L216.4 345.9 L216.7 345.0 L217.1 344.1 L217.4 343.1 L217.8 342.2 L218.3 341.3 L218.7 340.4 L219.2 339.5 L219.7 338.6 L220.0 338.0 L225.0 333.5 L226.0 333.6 L227.0 334.0 L228.0 334.5 L229.0 335.3 L230.0 336.3 L231.0 337.4 L232.0 338.6 L233.0 339.9 L234.0 341.2 L235.0 342.6 L236.0 343.9 L237.0 345.1 L238.0 346.2 L239.0 347.2 L240.0 348.0 L241.0 348.5 L242.0 348.9 L243.0 349.0 L244.0 348.9 L245.0 348.6 L246.0 348.0 L247.0 347.3 L248.0 346.4 L249.0 345.3 L250.0 344.0 L251.0 342.7 L252.0 341.2 L253.0 339.6 L254.0 338.1 L255.0 336.4 L256.0 334.9 L257.0 333.3 L258.0 331.8 L259.0 330.5 L260.0 329.2 L261.0 328.1 L262.0 327.2 L263.0 326.5 L264.0 325.9 L265.0 325.6 L266.0 325.5 L267.0 325.6 L268.0 325.9 L269.0 326.5 L270.0 327.2 L271.0 328.2 L272.0 329.3 L273.0 330.6 L274.0 331.9 L275.0 333.4 L276.0 334.9 L277.0 336.5 L278.0 338.1 L279.0 339.6 L280.0 341.1 L281.0 342.4 L282.0 343.7 L283.0 344.8 L284.0 345.8 L285.0 346.5 L286.0 347.1 L287.0 347.4 L288.0 347.5 L289.0 347.4 L290.0 347.1 L291.0 346.6 L292.0 345.9 L293.0 345.0 L294.0 344.0 L295.0 342.9 L296.0 341.7 L297.0 340.3 L298.0 339.0 L299.0 337.6 L300.0 336.3 L301.0 335.0 L302.0 333.8 L303.0 332.7 L304.0 331.7 L305.0 330.9 L306.0 330.2 L307.0 329.7 L308.0 329.5 L308.8 329.4 L309.8 329.5 L310.8 329.9 L311.8 330.5 L312.8 331.4 L313.8 332.4 L314.8 333.7 L315.8 335.0 L316.8 336.5 L317.8 338.1 L318.8 339.8 L319.8 341.4 L320.8 343.0 L321.8 344.6 L322.8 346.0 L323.8 347.3 L324.8 348.4 L325.8 349.4 L326.8 350.1 L327.8 350.6 L328.8 350.8 L329.2 350.8 L330.2 350.7 L331.2 350.4 L332.2 349.9 L333.2 349.2 L334.2 348.3 L335.2 347.3 L336.2 346.2 L337.2 344.9 L338.2 343.6 L339.2 342.2 L340.2 340.8 L341.2 339.4 L342.2 338.0 L343.2 336.7 L344.2 335.5 L345.2 334.4 L346.2 333.4 L347.2 332.6 L348.2 332.0 L349.2 331.6 L350.2 331.3 L350.8 331.3 L351.8 331.4 L352.8 331.8 L353.8 332.4 L354.8 333.3 L355.8 334.3 L356.8 335.6 L357.8 337.0 L358.8 338.5 L359.8 340.1 L360.8 341.7 L361.8 343.4 L362.8 345.1 L363.8 346.6 L364.8 348.1 L365.8 349.4 L366.8 350.6 L367.8 351.6 L368.8 352.4 L369.8 352.9 L370.8 353.2 L371.4 353.2 L372.4 353.1 L373.4 352.7 L374.4 352.1 L375.4 351.3 L376.4 350.3 L377.4 349.2 L378.4 347.8 L379.4 346.4 L380.4 344.9 L381.4 343.3 L382.4 341.7 L383.4 340.2 L384.4 338.7 L385.4 337.3 L386.4 336.1 L387.4 334.9 L388.4 334.0 L389.4 333.3 L390.4 332.8 L391.4 332.5 L392.0 332.5 L393.0 332.6 L394.0 333.0 L395.0 333.6 L396.0 334.4 L397.0 335.4 L398.0 336.6 L399.0 337.9 L400.0 339.3 L401.0 340.8 L402.0 342.3 L403.0 343.9 L404.0 345.4 L405.0 346.8 L406.0 348.1 L407.0 349.2 L408.0 350.2 L409.0 351.0 L410.0 351.6 L411.0 351.9 L411.9 352.0 L412.9 351.9 L413.9 351.6 L414.9 351.1 L415.9 350.4 L416.9 349.6 L417.9 348.6 L418.9 347.5 L419.9 346.3 L420.9 345.0 L421.9 343.6 L422.9 342.2 L423.9 340.8 L424.9 339.5 L425.9 338.2 L426.9 337.0 L427.9 335.9 L428.9 334.9 L429.9 334.1 L430.9 333.4 L431.9 333.0 L432.9 332.7 L433.8 332.6 L434.8 332.7 L435.8 332.9 L436.8 333.4 L437.8 334.0 L438.8 334.7 L439.8 335.6 L440.8 336.6 L441.8 337.7 L442.8 338.8 L443.8 340.1 L444.8 341.3 L445.8 342.6 L446.8 343.8 L447.8 345.0 L448.8 346.2 L449.8 347.2 L450.8 348.2 L451.8 349.0 L452.8 349.7 L453.8 350.2 L454.8 350.6 L455.8 350.8 L456.4 350.8 L457.4 350.7 L458.4 350.3 L459.4 349.8 L460.4 349.0 L461.4 348.0 L462.4 346.9 L463.4 345.7 L464.4 344.3 L465.4 342.9 L466.4 341.4 L467.4 339.9 L468.4 338.5 L469.4 337.1 L470.4 335.9 L471.4 334.8 L472.4 333.8 L473.4 333.0 L474.4 332.5 L475.4 332.1 L476.4 332.0 L477.4 332.1 L478.4 332.4 L479.4 332.8 L480.4 333.4 L481.4 334.2 L482.4 335.1 L483.4 336.1 L484.4 337.2 L485.4 338.4 L486.4 339.6 L487.4 340.9 L488.4 342.1 L489.4 343.3 L490.4 344.5 L491.4 345.5 L492.4 346.4 L493.4 347.3 L494.4 347.9 L495.4 348.4 L496.4 348.7 L497.4 348.9 L497.7 348.9 L498.7 348.8 L499.7 348.6 L500.7 348.2 L501.7 347.7 L502.7 347.1 L503.7 346.4 L504.7 345.6 L505.7 344.6 L506.7 343.7 L507.7 342.7 L508.7 341.6 L509.7 340.6 L510.7 339.5 L511.7 338.5 L512.7 337.6 L513.7 336.7 L514.7 336.0 L515.7 335.3 L516.7 334.8 L517.7 334.4 L518.7 334.1 L519.7 334.0 L520.0 334.0 L521.0 334.1 L522.0 334.3 L523.0 334.6 L524.0 335.0 L525.0 335.6 L526.0 336.2 L527.0 337.0 L528.0 337.8 L529.0 338.7 L530.0 339.6 L531.0 340.5 L532.0 341.4 L533.0 342.3 L534.0 343.2 L535.0 344.0 L536.0 344.8 L537.0 345.4 L538.0 346.0 L539.0 346.4 L540.0 346.7 L541.0 346.9 L542.0 347.0 L543.0 346.9 L544.0 346.7 L545.0 346.3 L546.0 345.8 L547.0 345.1 L548.0 344.4 L549.0 343.5 L550.0 342.6 L551.0 341.6 L552.0 340.5 L553.0 339.5 L554.0 338.4 L555.0 337.4 L556.0 336.5 L557.0 335.6 L558.0 334.9 L559.0 334.2 L560.0 333.7 L561.0 333.3 L562.0 333.1 L563.0 333.0 L564.0 333.1 L565.0 333.2 L566.0 333.5 L567.0 334.0 L568.0 334.5 L569.0 335.1 L570.0 335.8 L571.0 336.5 L572.0 337.3 L573.0 338.1 L574.0 339.0 L575.0 339.9 L576.0 340.7 L577.0 341.5 L578.0 342.2 L579.0 342.9 L580.0 343.5 L581.0 344.0 L582.0 344.5 L583.0 344.8 L584.0 344.9 L585.0 345.0 L586.0 344.9 L587.0 344.7 L588.0 344.3 L589.0 343.7 L590.0 343.0 L591.0 342.2 L592.0 341.2 L593.0 340.2 L594.0 339.1 L595.0 338.0 L596.0 336.9 L597.0 335.7 L598.0 334.6 L599.0 333.6 L600.0 332.6 L601.0 331.7 L602.0 331.0 L603.0 330.4 L604.0 329.9 L605.0 329.6 L606.0 329.5 L606.3 329.5 L607.3 329.6 L608.3 329.7 L609.3 330.0 L610.3 330.3 L611.3 330.8 L612.3 331.4 L613.3 332.0 L614.3 332.7 L615.3 333.4 L616.3 334.2 L617.3 335.1 L618.3 335.9 L619.3 336.8 L620.3 337.6 L621.3 338.5 L622.3 339.3 L623.3 340.0 L624.3 340.7 L625.3 341.3 L626.3 341.9 L627.3 342.4 L628.3 342.7 L629.3 343.0 L630.3 343.1 L631.3 343.2 L632.3 343.1 L633.3 343.0 L634.3 342.7 L635.3 342.3 L636.3 341.8 L637.3 341.3 L638.3 340.6 L639.3 339.9 L640.3 339.1 L641.3 338.3 L642.3 337.4 L643.3 336.5 L644.3 335.6 L645.3 334.7 L646.3 333.8 L647.3 333.0 L648.3 332.2 L649.3 331.5 L650.3 330.8 L651.3 330.2 L652.3 329.7 L653.3 329.3 L654.3 329.0 L655.3 328.9 L656.3 328.8 L656.4 328.8 L657.4 328.9 L658.4 329.0 L659.4 329.3 L660.4 329.8 L661.4 330.3 L662.4 330.9 L663.4 331.6 L664.4 332.3 L665.4 333.2 L666.4 334.0 L667.4 334.9 L668.4 335.8 L669.4 336.6 L670.4 337.5 L671.4 338.2 L672.4 339.0 L673.4 339.6 L674.4 340.2 L675.4 340.7 L676.4 341.0 L677.4 341.3 L678.4 341.4 L678.9 341.4 L679.9 341.2 L680.9 340.8 L681.9 340.2 L682.9 339.6 L683.9 339.2 L684.9 338.9 L685.2 338.9"/>
<path d="M103.4 580.0 L103.4 579.0 L103.4 578.0 L103.4 577.0 L103.4 576.0 L103.4 575.0 L103.4 574.0 L103.4 573.0 L103.4 572.0 L103.4 571.0 L103.4 570.0 L103.4 569.0 L103.4 568.0 L103.4 567.0 L103.4 566.0 L103.4 565.0 L103.4 564.0 L103.4 563.0 L103.4 562.0 L103.4 561.0 L103.4 560.0 L103.4 559.0 L103.4 558.0 L103.4 557.0 L103.5 556.0 L103.5 555.0 L103.5 554.0 L103.5 553.0 L103.5 552.0 L103.5 551.0 L103.5 550.0 L103.5 549.0 L103.5 548.0 L103.5 547.0 L103.5 546.0 L103.5 545.0 L103.5 544.0 L103.5 543.0 L103.5 542.0 L103.5 541.0 L103.5 540.0 L103.5 539.0 L103.5 538.0 L103.5 537.0 L103.5 536.0 L103.5 535.0 L103.6 534.0 L103.6 533.0 L103.6 532.0 L103.6 531.0 L103.6 530.0 L103.6 529.0 L103.6 528.0 L103.6 527.0 L103.6 526.0 L103.6 525.0 L103.6 524.0 L103.6 523.0 L103.6 522.0 L103.6 521.0 L103.6 520.0 L103.6 519.0 L103.6 518.0 L103.7 517.0 L103.7 516.0 L103.7 515.0 L103.7 514.0 L103.7 513.0 L103.7 512.0 L103.7 511.0 L103.7 510.0 L103.7 509.0 L103.7 508.0 L103.7 507.0 L103.7 506.0 L103.7 505.0 L103.7 504.0 L103.8 503.0 L103.8 502.0 L103.8 501.0 L103.8 500.0 L103.8 499.0 L103.8 498.0 L103.8 497.0 L103.8 496.0 L103.8 495.0 L103.8 494.0 L103.8 493.0 L103.8 492.0 L103.8 491.0 L103.9 490.0 L103.9 489.0 L103.9 488.0 L103.9 487.0 L103.9 486.0 L103.9 485.0 L103.9 484.0 L103.9 483.0 L103.9 482.0 L103.9 481.0 L103.9 480.0 L103.9 479.0 L104.0 478.0 L104.0 477.0 L104.0 476.0 L104.0 475.0 L104.0 474.0 L104.0 473.0 L104.0 472.0 L104.0 471.0 L104.0 470.0 L104.0 469.0 L104.0 468.0 L104.0 467.0 L104.1 466.0 L104.1 465.0 L104.1 464.0 L104.1 463.0 L104.1 462.0 L104.1 461.0 L104.1 460.0 L104.1 459.0 L104.1 458.0 L104.1 457.0 L104.1 456.0 L104.2 455.0 L104.2 454.0 L104.2 453.0 L104.2 452.0 L104.2 451.0 L104.2 450.0 L104.2 449.0 L104.2 448.0 L104.2 447.0 L104.2 446.0 L104.2 445.0 L104.3 444.0 L104.3 443.0 L104.3 442.0 L104.3 441.0 L104.3 440.0 L104.3 439.0 L104.3 438.0 L104.3 437.0 L104.3 436.0 L104.3 435.0 L104.4 434.0 L104.4 433.0 L104.4 432.0 L104.4 431.0 L104.4 430.0 L104.4 429.0 L104.4 428.0 L104.4 427.0 L104.4 426.0 L104.5 425.0 L104.5 424.0 L104.5 423.0 L104.5 422.0 L104.5 421.0 L104.5 420.0 L104.5 419.0 L104.5 418.0 L104.6 417.0 L104.6 416.0 L104.6 415.0 L104.6 414.0 L104.6 413.0 L104.6 412.0 L104.6 411.0 L104.7 410.0 L104.7 409.0 L104.7 408.0 L104.7 407.0 L104.7 406.0 L104.7 405.0 L104.7 404.0 L104.8 403.0 L104.8 402.0 L104.8 401.0 L104.8 400.0 L104.8 399.0 L104.8 398.0 L104.9 397.0 L104.9 396.0 L104.9 395.0 L104.9 394.0 L104.9 393.0 L105.0 392.0 L105.0 391.0 L105.0 390.0 L105.0 389.0 L105.0 388.0 L105.1 387.0 L105.1 386.0 L105.1 385.0 L105.1 384.0 L105.1 383.0 L105.2 382.0 L105.2 381.0 L105.2 380.0 L105.2 379.0 L105.2 378.0 L105.3 377.0 L105.3 376.0 L105.3 375.0 L105.4 374.0 L105.4 373.0 L105.4 372.0 L105.4 371.0 L105.5 370.0 L105.5 369.0 L105.5 368.0 L105.6 367.0 L105.6 366.0 L105.6 365.0 L105.7 364.0 L105.7 363.0 L105.8 362.0 L105.8 361.0 L105.8 360.0 L105.9 359.0 L105.9 358.0 L106.0 357.0 L106.0 356.0 L106.1 355.0 L106.1 354.0 L106.2 353.0 L106.2 352.0 L106.3 351.0 L106.3 350.0 L106.4 349.0 L106.4 348.0 L106.5 347.0 L106.5 346.0 L106.6 345.0 L106.7 344.0 L106.7 343.0 L106.8 342.0 L106.8 341.0 L106.9 340.0 L107.0 339.1 L107.0 338.1 L107.1 337.1 L107.2 336.1 L107.3 335.1 L107.4 334.1 L107.5 333.1 L107.6 332.1 L107.7 331.1 L107.8 330.1 L108.0 329.1 L108.1 328.1 L108.2 327.1 L108.3 326.1 L108.5 325.1 L108.6 324.1 L108.8 323.1 L108.9 322.1 L109.0 321.2 L109.2 320.2 L109.3 319.2 L109.5 318.2 L109.7 317.2 L109.8 316.2 L110.0 315.2 L110.1 314.2 L110.3 313.3 L110.5 312.2 L110.6 311.2 L110.8 310.2 L111.0 309.2 L111.2 308.3 L111.5 307.3 L111.7 306.3 L112.0 305.4 L112.3 304.4 L112.6 303.5 L113.1 302.4 L113.6 301.4 L114.2 300.8 L114.9 301.0 L115.6 301.7 L116.3 302.7 L116.8 303.7 L117.2 304.5 L117.6 305.4 L117.9 306.3 L118.2 307.3 L118.5 308.3 L118.8 309.2 L119.0 310.2 L119.3 311.2 L119.5 312.2 L119.8 313.2 L120.1 314.1 L120.4 315.1 L120.7 316.1 L120.9 317.0 L121.2 318.0 L121.5 319.0 L121.8 319.9 L122.0 320.9 L122.3 321.9 L122.6 322.8 L122.9 323.8 L123.2 324.7 L123.6 325.6 L123.9 326.6 L124.3 327.5 L124.7 328.4 L125.1 329.3 L125.5 330.2 L126.0 331.1 L126.5 332.0 L127.1 332.9 L127.7 333.7 L128.4 334.3 L129.2 334.9 L130.2 335.1 L131.2 335.0 L132.2 334.8 L133.1 334.5 L134.1 334.2 L135.0 333.8 L135.9 333.3 L136.8 332.9 L137.8 332.5 L138.7 332.2 L139.6 331.8 L140.6 331.5 L141.5 331.1 L142.4 330.8 L143.4 330.4 L144.3 330.1 L145.3 329.8 L146.2 329.4 L147.2 329.1 L148.1 328.8 L149.1 328.5 L150.0 328.2 L151.0 327.9 L151.9 327.7 L152.9 327.4 L153.9 327.1 L154.8 326.9 L155.8 326.6 L156.8 326.4 L157.8 326.1 L158.7 325.9 L159.7 325.7 L160.7 325.5 L161.7 325.3 L162.6 325.1 L163.6 324.9 L164.6 324.7 L165.6 324.5 L166.6 324.3 L167.6 324.1 L168.5 323.9 L169.5 323.7 L170.5 323.6 L171.5 323.4 L172.5 323.3 L173.5 323.3 L174.5 323.2 L175.5 323.2 L176.5 323.2 L177.5 323.2 L178.5 323.3 L179.5 323.3 L180.5 323.4 L181.5 323.4 L182.5 323.5 L183.5 323.6 L184.5 323.6 L185.5 323.7 L186.5 323.7 L187.5 323.8 L188.5 323.8 L189.5 323.9 L190.5 323.9 L191.5 323.9 L192.6 324.0 L193.6 324.0 L194.6 324.0 L195.6 324.1 L196.6 324.1 L197.6 324.2 L198.6 324.3 L199.5 324.3 L200.4 324.4 L201.3 324.7 L202.2 325.2 L203.0 325.9 L203.9 326.5 L204.7 327.1 L205.6 327.5 L206.5 327.9 L207.4 328.4 L208.4 328.8 L209.3 329.2 L210.2 329.5 L211.1 329.9 L212.1 330.3 L213.0 330.7 L213.9 331.2 L214.8 331.6 L215.7 332.0 L216.6 332.5 L217.6 332.9 L218.5 333.2 L219.4 333.5 L220.4 333.7 L221.4 333.9 L222.3 334.1 L223.3 334.2 L224.4 334.4 L225.4 334.5 L226.4 334.6 L227.3 334.6 L228.3 334.6 L229.3 334.4 L230.2 334.1 L231.2 333.7 L232.1 333.3 L233.0 332.8 L233.9 332.3 L234.8 331.9 L235.7 331.4 L236.6 330.9 L237.4 330.4 L238.2 329.8 L239.1 329.3 L239.9 328.7 L240.8 328.2 L241.6 327.7 L242.5 327.2 L243.4 326.6 L244.3 326.1 L245.2 325.6 L246.1 325.1 L247.0 324.7 L247.9 324.4 L248.9 324.3 L249.8 324.2 L250.8 324.1 L251.8 324.1 L252.9 324.0 L253.9 324.0 L254.8 324.1 L255.8 324.2 L256.8 324.5 L257.7 324.8 L258.7 325.2 L259.7 325.5 L260.6 325.8 L261.6 326.1 L262.5 326.5 L263.4 326.8 L264.4 327.2 L265.3 327.5 L266.3 327.9 L267.2 328.3 L268.1 328.7 L269.0 329.2 L269.9 329.8 L270.7 330.4 L271.6 330.9 L272.5 331.4 L273.4 331.8 L274.3 332.0 L275.3 332.0 L276.3 331.9 L277.3 331.9 L278.3 331.8 L279.3 331.6 L280.3 331.5 L281.3 331.3 L282.2 331.1 L283.2 330.8 L284.1 330.5 L285.0 330.1 L285.9 329.6 L286.8 329.1 L287.7 328.6 L288.6 328.1 L289.5 327.6 L290.4 327.1 L291.3 326.7 L292.2 326.4 L293.2 326.1 L294.1 325.8 L295.1 325.5 L296.0 325.2 L297.0 324.9 L298.0 324.6 L299.0 324.4 L299.9 324.1 L300.9 323.9 L301.9 323.8 L302.9 323.6 L303.9 323.5 L304.9 323.5 L305.9 323.5 L306.9 323.5 L307.9 323.5 L308.9 323.5 L309.9 323.6 L310.9 323.6 L311.9 323.6 L312.9 323.6 L313.9 323.7 L314.9 323.7 L315.9 323.7 L316.9 323.8 L317.9 323.8 L318.9 323.9 L319.9 324.1 L320.8 324.2 L321.8 324.5 L322.8 324.7 L323.8 324.9 L324.8 325.2 L325.7 325.4 L326.7 325.6 L327.7 325.8 L328.7 325.9 L329.7 326.0 L330.7 326.0 L331.7 326.0 L332.7 326.0 L333.7 326.0 L334.7 326.0 L335.7 326.0 L336.7 326.0 L337.7 326.0 L338.7 326.0 L339.7 326.0 L340.7 326.0 L341.7 326.0 L342.7 326.0 L343.7 326.0 L344.7 326.0 L345.7 325.9 L346.7 325.8 L347.7 325.8 L348.7 325.7 L349.7 325.6 L350.7 325.5 L351.7 325.4 L352.7 325.3 L353.7 325.2 L354.6 325.1 L355.6 325.0 L356.6 324.8 L357.6 324.7 L358.6 324.5 L359.6 324.3 L360.6 324.1 L361.6 323.9 L362.6 323.7 L363.6 323.6 L364.5 323.4 L365.5 323.3 L366.5 323.2 L367.5 323.2 L368.5 323.2 L369.5 323.2 L370.5 323.3 L371.5 323.4 L372.5 323.5 L373.5 323.6 L374.5 323.7 L375.5 323.8 L376.5 323.9 L377.5 324.1 L378.5 324.2 L379.5 324.3 L380.5 324.4 L381.4 324.5 L382.4 324.7 L383.4 324.8 L384.4 324.9 L385.4 325.1 L386.4 325.2 L387.4 325.4 L388.4 325.5 L389.4 325.7 L390.4 325.8 L391.4 325.9 L392.4 326.1 L393.3 326.2 L394.3 326.2 L395.3 326.3 L396.3 326.4 L397.3 326.5 L398.3 326.5 L399.3 326.6 L400.3 326.7 L401.3 326.7 L402.3 326.8 L403.3 326.9 L404.3 326.9 L405.3 326.9 L406.3 327.0 L407.3 327.0 L408.3 327.0 L409.3 327.0 L410.3 327.0 L411.3 326.9 L412.3 326.9 L413.3 326.8 L414.3 326.8 L415.3 326.7 L416.3 326.6 L417.3 326.5 L418.3 326.3 L419.3 326.2 L420.3 326.1 L421.3 326.0 L422.3 325.8 L423.3 325.7 L424.3 325.5 L425.2 325.4 L426.2 325.3 L427.2 325.1 L428.2 325.0 L429.2 324.9 L430.2 324.7 L431.2 324.6 L432.2 324.4 L433.2 324.2 L434.1 324.0 L435.1 323.9 L436.1 323.7 L437.1 323.5 L438.1 323.3 L439.1 323.1 L440.0 322.9 L441.0 322.7 L442.0 322.6 L443.0 322.4 L444.0 322.2 L445.0 322.1 L446.0 322.0 L446.9 321.8 L447.9 321.7 L448.9 321.6 L449.9 321.4 L450.9 321.3 L451.9 321.2 L452.9 321.1 L453.9 320.9 L454.9 320.8 L455.9 320.7 L456.9 320.6 L457.9 320.5 L458.9 320.4 L459.9 320.3 L460.9 320.2 L461.9 320.2 L462.9 320.1 L463.9 320.1 L464.9 320.1 L465.9 320.1 L466.9 320.1 L467.9 320.1 L468.9 320.1 L469.9 320.1 L470.9 320.2 L471.9 320.2 L472.9 320.2 L473.9 320.2 L474.9 320.3 L475.9 320.3 L476.9 320.4 L477.9 320.4 L478.9 320.4 L479.9 320.5 L480.9 320.5 L481.9 320.6 L482.9 320.6 L483.9 320.7 L484.8 320.8 L485.8 320.8 L486.8 320.9 L487.8 321.1 L488.8 321.2 L489.8 321.4 L490.8 321.5 L491.8 321.7 L492.8 321.9 L493.7 322.1 L494.7 322.3 L495.7 322.6 L496.7 322.8 L497.7 323.1 L498.6 323.3 L499.6 323.6 L500.6 323.9 L501.5 324.1 L502.5 324.4 L503.5 324.7 L504.4 324.9 L505.4 325.2 L506.3 325.5 L507.3 325.9 L508.2 326.2 L509.1 326.6 L510.0 327.0 L511.0 327.4 L511.9 327.8 L512.8 328.2 L513.7 328.6 L514.7 328.9 L515.6 329.2 L516.6 329.5 L517.5 329.9 L518.5 330.2 L519.5 330.6 L520.4 330.9 L521.4 331.2 L522.4 331.6 L523.4 331.9 L524.3 332.1 L525.3 332.4 L526.3 332.6 L527.2 332.8 L528.2 332.9 L529.2 333.0 L530.1 333.0 L531.1 333.0 L532.1 332.8 L533.0 332.7 L534.0 332.4 L534.9 332.2 L535.9 331.8 L536.8 331.5 L537.8 331.1 L538.7 330.7 L539.7 330.3 L540.6 329.9 L541.6 329.5 L542.5 329.0 L543.4 328.6 L544.4 328.2 L545.3 327.9 L546.2 327.4 L547.1 326.9 L548.1 326.4 L549.0 325.9 L549.9 325.5 L550.8 325.2 L551.7 325.0 L552.7 325.0 L553.6 325.2 L554.6 325.4 L555.6 325.6 L556.6 325.9 L557.5 326.2 L558.5 326.6 L559.5 326.9 L560.5 327.1 L561.4 327.4 L562.4 327.7 L563.3 328.0 L564.3 328.4 L565.3 328.7 L566.2 329.1 L567.2 329.4 L568.2 329.7 L569.1 330.0 L570.1 330.3 L571.1 330.5 L572.0 330.7 L573.0 330.9 L574.0 331.0 L574.9 331.0 L575.9 331.0 L576.9 330.9 L577.9 330.9 L578.9 330.8 L579.9 330.7 L580.9 330.6 L581.9 330.4 L582.9 330.3 L583.9 330.2 L584.9 330.0 L585.9 329.8 L586.8 329.6 L587.7 329.3 L588.7 328.9 L589.6 328.5 L590.5 328.1 L591.4 327.6 L592.3 327.1 L593.2 326.7 L594.2 326.2 L595.1 325.7 L596.0 325.3 L596.9 324.9 L597.9 324.6 L598.8 324.3 L599.8 324.0 L600.7 323.9 L601.7 323.7 L602.7 323.6 L603.7 323.4 L604.7 323.3 L605.6 323.2 L606.6 323.1 L607.7 323.0 L608.7 322.9 L609.7 322.8 L610.7 322.7 L611.7 322.6 L612.7 322.5 L613.7 322.5 L614.6 322.4 L615.6 322.3 L616.6 322.2 L617.6 322.2 L618.6 322.1 L619.6 322.0 L620.6 321.9 L621.6 321.9 L622.6 321.8 L623.6 321.8 L624.6 321.7 L625.6 321.7 L626.6 321.7 L627.6 321.6 L628.6 321.6 L629.6 321.6 L630.6 321.6 L631.6 321.6 L632.6 321.6 L633.6 321.6 L634.6 321.6 L635.6 321.6 L636.6 321.6 L637.6 321.6 L638.6 321.6 L639.6 321.6 L640.6 321.6 L641.6 321.6 L642.6 321.6 L643.6 321.6 L644.6 321.6 L645.6 321.6 L646.6 321.6 L647.6 321.6 L648.6 321.6 L649.6 321.6 L650.6 321.6 L651.6 321.6 L652.6 321.6 L653.6 321.6 L654.6 321.6 L655.6 321.6 L656.6 321.6 L657.6 321.6 L658.6 321.6 L659.7 321.7 L660.7 321.7 L661.7 321.8 L662.7 321.9 L663.7 321.9 L664.7 322.0 L665.7 322.1 L666.7 322.2 L667.7 322.3 L668.7 322.4 L669.6 322.6 L670.6 322.7 L671.5 322.9 L672.4 323.2 L673.4 323.6 L674.3 324.0 L675.2 324.4 L676.1 324.9 L677.0 325.4 L677.9 325.9 L678.8 326.4 L679.7 326.9 L680.6 327.3 L681.5 327.8 L682.4 328.3 L683.2 328.8 L684.1 329.3 L684.9 329.8 L685.8 330.4 L686.7 330.9 L687.5 331.4 L688.4 331.8 L689.3 332.2 L690.2 332.6 L691.2 333.0 L692.1 333.4 L693.0 333.7 L694.0 334.1 L695.0 334.5 L695.9 334.8 L696.9 335.1 L697.9 335.3 L698.8 335.4 L699.8 335.5 L700.8 335.5 L701.8 335.4 L702.9 335.4 L703.9 335.3 L704.9 335.2 L705.8 335.0 L706.7 334.8 L707.5 334.3 L708.3 333.7 L709.1 333.0 L709.9 332.3 L710.7 331.7 L711.6 331.2 L712.5 330.7 L713.4 330.2 L714.3 329.8 L715.0 329.5"/>
</g>
<g fill="none" stroke="#111" stroke-width="1.1">
<circle cx="106.3" cy="533.5" r="3.9"/>
<circle cx="106.5" cy="348.5" r="3.9"/>
<circle cx="125.3" cy="222.2" r="3.9"/>
<circle cx="138.3" cy="119.7" r="3.9"/>
<circle cx="149.4" cy="119.5" r="3.9"/>
<circle cx="157.7" cy="57.4" r="3.9"/>
<circle cx="175.8" cy="72.0" r="3.9"/>
<circle cx="176.6" cy="72.2" r="3.9"/>
<circle cx="185.7" cy="71.6" r="3.9"/>
<circle cx="201.9" cy="53.7" r="3.9"/>
<circle cx="200.5" cy="57.4" r="3.9"/>
<circle cx="207.1" cy="72.5" r="3.9"/>
<circle cx="226.8" cy="44.0" r="3.9"/>
<circle cx="230.5" cy="51.0" r="3.9"/>
<circle cx="259.5" cy="51.3" r="3.9"/>
<circle cx="277.3" cy="44.0" r="3.9"/>
<circle cx="274.9" cy="51.3" r="3.9"/>
<circle cx="273.6" cy="52.3" r="3.9"/>
<circle cx="325.2" cy="61.5" r="3.9"/>
<circle cx="374.6" cy="83.0" r="3.9"/>
<circle cx="403.4" cy="83.0" r="3.9"/>
<circle cx="406.6" cy="109.7" r="3.9"/>
<circle cx="421.2" cy="109.7" r="3.9"/>
<circle cx="425.1" cy="107.3" r="3.9"/>
<circle cx="470.1" cy="140.7" r="3.9"/>
<circle cx="517.1" cy="140.7" r="3.9"/>
<circle cx="553.0" cy="215.8" r="3.9"/>
<circle cx="575.1" cy="215.8" r="3.9"/>
<circle cx="514.5" cy="297.5" r="3.9"/>
<circle cx="524.4" cy="297.5" r="3.9"/>
<circle cx="522.3" cy="313.9" r="3.9"/>
<circle cx="561.4" cy="309.4" r="3.9"/>
<circle cx="565.8" cy="327.6" r="3.9"/>
<circle cx="569.5" cy="327.6" r="3.9"/>
<circle cx="619.2" cy="312.8" r="3.9"/>
<circle cx="619.2" cy="324.8" r="3.9"/>
<circle cx="674.5" cy="300.7" r="3.9"/>
<circle cx="674.5" cy="311.9" r="3.9"/>
<circle cx="706.4" cy="327.8" r="3.9"/>
<circle cx="715.2" cy="339.5" r="3.9"/>
<circle cx="755.1" cy="313.8" r="3.9"/>
<circle cx="764.5" cy="336.0" r="3.9"/>
<circle cx="800.7" cy="315.7" r="3.9"/>
<circle cx="800.7" cy="329.1" r="3.9"/>
<circle cx="857.6" cy="319.1" r="3.9"/>
<circle cx="867.7" cy="323.6" r="3.9"/>
</g><g fill="none" stroke="#050505" stroke-width="1.0" stroke-linejoin="miter">
<path d="M110.5 472.4 L114.2 478.8 L106.8 478.8Z"/>
<path d="M107.2 335.6 L110.9 341.9 L103.5 341.9Z"/>
<path d="M116.8 267.9 L120.5 274.2 L113.1 274.2Z"/>
<path d="M126.2 318.1 L129.9 324.4 L122.5 324.4Z"/>
<path d="M136.9 237.1 L140.6 243.4 L133.2 243.4Z"/>
<path d="M144.7 239.2 L148.4 245.5 L141.0 245.5Z"/>
<path d="M147.3 237.1 L151.0 243.4 L143.6 243.4Z"/>
<path d="M154.6 250.7 L158.3 257.1 L150.9 257.1Z"/>
<path d="M168.9 253.4 L172.6 259.8 L165.2 259.8Z"/>
<path d="M170.2 253.9 L173.9 260.2 L166.5 260.2Z"/>
<path d="M175.3 246.8 L179.0 253.1 L171.6 253.1Z"/>
<path d="M180.0 246.2 L183.7 252.5 L176.3 252.5Z"/>
<path d="M198.2 254.1 L201.9 260.4 L194.5 260.4Z"/>
<path d="M189.6 379.4 L193.3 385.8 L185.9 385.8Z"/>
<path d="M194.5 351.2 L198.2 357.6 L190.8 357.6Z"/>
<path d="M193.6 358.1 L197.3 364.4 L189.9 364.4Z"/>
<path d="M204.3 358.1 L208.0 364.4 L200.6 364.4Z"/>
<path d="M215.6 335.6 L219.3 341.9 L211.9 341.9Z"/>
<path d="M221.0 337.5 L224.7 343.8 L217.3 343.8Z"/>
<path d="M225.4 336.8 L229.1 343.1 L221.7 343.1Z"/>
<path d="M234.4 336.8 L238.1 343.1 L230.7 343.1Z"/>
<path d="M243.8 337.5 L247.5 343.8 L240.1 343.8Z"/>
<path d="M243.3 346.0 L247.0 352.3 L239.6 352.3Z"/>
<path d="M250.6 357.0 L254.3 363.3 L246.9 363.3Z"/>
<path d="M252.3 355.3 L256.0 361.6 L248.6 361.6Z"/>
<path d="M269.1 337.7 L272.8 344.1 L265.4 344.1Z"/>
<path d="M270.2 339.7 L273.9 346.1 L266.5 346.1Z"/>
<path d="M309.3 350.6 L313.0 356.9 L305.6 356.9Z"/>
<path d="M317.5 350.6 L321.2 356.9 L313.8 356.9Z"/>
<path d="M369.9 335.6 L373.6 341.9 L366.2 341.9Z"/>
<path d="M373.0 335.6 L376.7 341.9 L369.3 341.9Z"/>
<path d="M372.1 343.5 L375.8 349.8 L368.4 349.8Z"/>
<path d="M420.7 328.1 L424.4 334.4 L417.0 334.4Z"/>
<path d="M428.3 328.1 L432.0 334.4 L424.6 334.4Z"/>
<path d="M425.7 332.4 L429.4 338.8 L422.0 338.8Z"/>
<path d="M462.3 334.1 L466.0 340.4 L458.6 340.4Z"/>
<path d="M472.3 333.5 L476.0 339.8 L468.6 339.8Z"/>
<path d="M471.1 340.6 L474.8 346.9 L467.4 346.9Z"/>
<path d="M463.0 343.7 L466.7 350.1 L459.3 350.1Z"/>
<path d="M513.2 341.2 L516.9 347.6 L509.5 347.6Z"/>
<path d="M520.1 346.5 L523.8 352.8 L516.4 352.8Z"/>
<path d="M568.0 340.6 L571.7 346.9 L564.3 346.9Z"/>
<path d="M569.2 328.1 L572.9 334.4 L565.5 334.4Z"/>
<path d="M619.5 328.5 L623.2 334.8 L615.8 334.8Z"/>
<path d="M658.5 329.3 L662.2 335.6 L654.8 335.6Z"/>
<path d="M657.3 334.3 L661.0 340.6 L653.6 340.6Z"/>
<path d="M704.1 340.6 L707.8 346.9 L700.4 346.9Z"/>
<path d="M712.3 347.6 L716.0 353.9 L708.6 353.9Z"/>
<path d="M713.9 346.7 L717.6 353.1 L710.2 353.1Z"/>
<path d="M723.5 335.6 L727.2 341.9 L719.8 341.9Z"/>
<path d="M722.2 341.0 L725.9 347.3 L718.5 347.3Z"/>
<path d="M763.6 342.5 L767.3 348.8 L759.9 348.8Z"/>
<path d="M772.7 340.6 L776.4 346.9 L769.0 346.9Z"/>
<path d="M814.7 339.0 L818.4 345.3 L811.0 345.3Z"/>
<path d="M823.9 346.9 L827.6 353.2 L820.2 353.2Z"/>
<path d="M866.5 328.1 L870.2 334.4 L862.8 334.4Z"/>
<path d="M869.8 328.1 L873.5 334.4 L866.1 334.4Z"/>
<path d="M872.7 346.2 L876.4 352.6 L869.0 352.6Z"/>
</g>
<g fill="#5a5a5a" stroke="none">
<circle cx="106.3" cy="533.5" r="0.45"/>
<circle cx="106.5" cy="348.5" r="0.45"/>
<circle cx="125.3" cy="222.2" r="0.45"/>
<circle cx="138.3" cy="119.7" r="0.45"/>
<circle cx="149.4" cy="119.5" r="0.45"/>
<circle cx="157.7" cy="57.4" r="0.45"/>
<circle cx="175.8" cy="72.0" r="0.45"/>
<circle cx="176.6" cy="72.2" r="0.45"/>
<circle cx="185.7" cy="71.6" r="0.45"/>
<circle cx="201.9" cy="53.7" r="0.45"/>
<circle cx="200.5" cy="57.4" r="0.45"/>
<circle cx="207.1" cy="72.5" r="0.45"/>
<circle cx="226.8" cy="44.0" r="0.45"/>
<circle cx="230.5" cy="51.0" r="0.45"/>
<circle cx="259.5" cy="51.3" r="0.45"/>
<circle cx="277.3" cy="44.0" r="0.45"/>
<circle cx="274.9" cy="51.3" r="0.45"/>
<circle cx="273.6" cy="52.3" r="0.45"/>
<circle cx="325.2" cy="61.5" r="0.45"/>
<circle cx="374.6" cy="83.0" r="0.45"/>
<circle cx="403.4" cy="83.0" r="0.45"/>
<circle cx="406.6" cy="109.7" r="0.45"/>
<circle cx="421.2" cy="109.7" r="0.45"/>
<circle cx="425.1" cy="107.3" r="0.45"/>
<circle cx="470.1" cy="140.7" r="0.45"/>
<circle cx="517.1" cy="140.7" r="0.45"/>
<circle cx="553.0" cy="215.8" r="0.45"/>
<circle cx="575.1" cy="215.8" r="0.45"/>
<circle cx="514.5" cy="297.5" r="0.45"/>
<circle cx="524.4" cy="297.5" r="0.45"/>
<circle cx="522.3" cy="313.9" r="0.45"/>
<circle cx="561.4" cy="309.4" r="0.45"/>
<circle cx="565.8" cy="327.6" r="0.45"/>
<circle cx="569.5" cy="327.6" r="0.45"/>
<circle cx="619.2" cy="312.8" r="0.45"/>
<circle cx="619.2" cy="324.8" r="0.45"/>
<circle cx="674.5" cy="300.7" r="0.45"/>
<circle cx="674.5" cy="311.9" r="0.45"/>
<circle cx="706.4" cy="327.8" r="0.45"/>
<circle cx="715.2" cy="339.5" r="0.45"/>
<circle cx="755.1" cy="313.8" r="0.45"/>
<circle cx="764.5" cy="336.0" r="0.45"/>
<circle cx="800.7" cy="315.7" r="0.45"/>
<circle cx="800.7" cy="329.1" r="0.45"/>
<circle cx="857.6" cy="319.1" r="0.45"/>
<circle cx="867.7" cy="323.6" r="0.45"/>
<circle cx="110.5" cy="477.0" r="0.4"/>
<circle cx="107.2" cy="340.2" r="0.4"/>
<circle cx="116.8" cy="272.5" r="0.4"/>
<circle cx="126.2" cy="322.7" r="0.4"/>
<circle cx="136.9" cy="241.7" r="0.4"/>
<circle cx="144.7" cy="243.8" r="0.4"/>
<circle cx="147.3" cy="241.7" r="0.4"/>
<circle cx="154.6" cy="255.3" r="0.4"/>
<circle cx="168.9" cy="258.0" r="0.4"/>
<circle cx="170.2" cy="258.5" r="0.4"/>
<circle cx="175.3" cy="251.4" r="0.4"/>
<circle cx="180.0" cy="250.8" r="0.4"/>
<circle cx="198.2" cy="258.7" r="0.4"/>
<circle cx="189.6" cy="384.0" r="0.4"/>
<circle cx="194.5" cy="355.8" r="0.4"/>
<circle cx="193.6" cy="362.7" r="0.4"/>
<circle cx="204.3" cy="362.7" r="0.4"/>
<circle cx="215.6" cy="340.2" r="0.4"/>
<circle cx="221.0" cy="342.1" r="0.4"/>
<circle cx="225.4" cy="341.4" r="0.4"/>
<circle cx="234.4" cy="341.4" r="0.4"/>
<circle cx="243.8" cy="342.1" r="0.4"/>
<circle cx="243.3" cy="350.6" r="0.4"/>
<circle cx="250.6" cy="361.6" r="0.4"/>
<circle cx="252.3" cy="359.9" r="0.4"/>
<circle cx="269.1" cy="342.3" r="0.4"/>
<circle cx="270.2" cy="344.3" r="0.4"/>
<circle cx="309.3" cy="355.2" r="0.4"/>
<circle cx="317.5" cy="355.2" r="0.4"/>
<circle cx="369.9" cy="340.2" r="0.4"/>
<circle cx="373.0" cy="340.2" r="0.4"/>
<circle cx="372.1" cy="348.1" r="0.4"/>
<circle cx="420.7" cy="332.7" r="0.4"/>
<circle cx="428.3" cy="332.7" r="0.4"/>
<circle cx="425.7" cy="337.0" r="0.4"/>
<circle cx="462.3" cy="338.7" r="0.4"/>
<circle cx="472.3" cy="338.1" r="0.4"/>
<circle cx="471.1" cy="345.2" r="0.4"/>
<circle cx="463.0" cy="348.3" r="0.4"/>
<circle cx="513.2" cy="345.8" r="0.4"/>
<circle cx="520.1" cy="351.1" r="0.4"/>
<circle cx="568.0" cy="345.2" r="0.4"/>
<circle cx="569.2" cy="332.7" r="0.4"/>
<circle cx="619.5" cy="333.1" r="0.4"/>
<circle cx="658.5" cy="333.9" r="0.4"/>
<circle cx="657.3" cy="338.9" r="0.4"/>
<circle cx="704.1" cy="345.2" r="0.4"/>
<circle cx="712.3" cy="352.2" r="0.4"/>
<circle cx="713.9" cy="351.3" r="0.4"/>
<circle cx="723.5" cy="340.2" r="0.4"/>
<circle cx="722.2" cy="345.6" r="0.4"/>
<circle cx="763.6" cy="347.1" r="0.4"/>
<circle cx="772.7" cy="345.2" r="0.4"/>
<circle cx="814.7" cy="343.6" r="0.4"/>
<circle cx="823.9" cy="351.5" r="0.4"/>
<circle cx="866.5" cy="332.7" r="0.4"/>
<circle cx="869.8" cy="332.7" r="0.4"/>
<circle cx="872.7" cy="350.8" r="0.4"/>
</g>
<g fill="#000">
<circle cx="102.9" cy="580.0" r="4.3"/>
<circle cx="107.0" cy="492.9" r="4.3"/>
<circle cx="112.0" cy="404.2" r="4.3"/>
<circle cx="118.8" cy="362.0" r="4.3"/>
<circle cx="149.7" cy="339.2" r="4.3"/>
<circle cx="175.8" cy="326.7" r="4.3"/>
<circle cx="197.7" cy="322.3" r="4.3"/>
<circle cx="201.7" cy="322.6" r="4.3"/>
<circle cx="216.5" cy="332.4" r="4.3"/>
<circle cx="222.5" cy="327.0" r="4.3"/>
<circle cx="226.3" cy="328.2" r="4.3"/>
<circle cx="230.1" cy="328.8" r="4.3"/>
<circle cx="245.7" cy="328.8" r="4.3"/>
<circle cx="248.2" cy="331.3" r="4.3"/>
<circle cx="255.7" cy="334.5" r="4.3"/>
<circle cx="265.8" cy="333.8" r="4.3"/>
<circle cx="274.5" cy="334.1" r="4.3"/>
<circle cx="320.7" cy="327.3" r="4.3"/>
<circle cx="326.3" cy="327.0" r="4.3"/>
<circle cx="367.3" cy="322.3" r="4.3"/>
<circle cx="420.9" cy="322.6" r="4.3"/>
<circle cx="456.4" cy="320.9" r="4.3"/>
<circle cx="469.9" cy="320.9" r="4.3"/>
<circle cx="510.9" cy="325.1" r="4.3"/>
<circle cx="562.5" cy="316.5" r="4.3"/>
<circle cx="563.0" cy="322.0" r="4.3"/>
<circle cx="567.5" cy="319.5" r="4.3"/>
<circle cx="573.5" cy="318.0" r="4.3"/>
<circle cx="621.9" cy="318.6" r="4.3"/>
<circle cx="663.0" cy="319.8" r="4.3"/>
<circle cx="673.0" cy="318.8" r="4.3"/>
<circle cx="703.2" cy="316.6" r="4.3"/>
<circle cx="713.4" cy="316.6" r="4.3"/>
<circle cx="756.0" cy="317.6" r="4.3"/>
<circle cx="801.2" cy="323.6" r="4.3"/>
<circle cx="822.8" cy="316.9" r="4.3"/>
<circle cx="821.3" cy="323.5" r="4.3"/>
<circle cx="865.1" cy="313.2" r="4.3"/>
<circle cx="868.5" cy="311.9" r="4.3"/>
</g>
<g fill="none" stroke="#0c0c0c" stroke-width="1.5">
<rect x="102.65" y="11.15" width="794.35" height="568.75"/>
</g><g stroke="#0c0c0c" stroke-width="1.35">
<path d="M103.15 11.15 V18.75"/><path d="M103.15 579.9 V572.3"/>
<path d="M201.9 579.9 V572.3"/><path d="M201.9 11.15 V18.75"/>
<path d="M301.2 579.9 V572.3"/><path d="M301.2 11.15 V18.75"/>
<path d="M400.5 579.9 V572.3"/><path d="M400.5 11.15 V18.75"/>
<path d="M499.8 579.9 V572.3"/><path d="M499.8 11.15 V18.75"/>
<path d="M599.1 579.9 V572.3"/><path d="M599.1 11.15 V18.75"/>
<path d="M698.4 579.9 V572.3"/><path d="M698.4 11.15 V18.75"/>
<path d="M797.7 579.9 V572.3"/><path d="M797.7 11.15 V18.75"/>
<path d="M102.65 498.6 H110.25"/><path d="M897.0 498.6 H889.4"/>
<path d="M102.65 417.4 H110.25"/><path d="M897.0 417.4 H889.4"/>
<path d="M102.65 336.1 H110.25"/><path d="M897.0 336.1 H889.4"/>
<path d="M102.65 254.9 H110.25"/><path d="M897.0 254.9 H889.4"/>
<path d="M102.65 173.6 H110.25"/><path d="M897.0 173.6 H889.4"/>
<path d="M102.65 92.4 H110.25"/><path d="M897.0 92.4 H889.4"/>
</g>
<text x="92.3" y="508.5" text-anchor="end" font-size="25.4">0.05</text>
<text x="92.3" y="427.3" text-anchor="end" font-size="25.4">0.10</text>
<text x="92.3" y="346.0" text-anchor="end" font-size="25.4">0.15</text>
<text x="92.3" y="264.8" text-anchor="end" font-size="25.4">0.20</text>
<text x="92.3" y="183.5" text-anchor="end" font-size="25.4">0.25</text>
<text x="92.3" y="102.3" text-anchor="end" font-size="25.4">0.30</text>
<text x="92.3" y="21.0" text-anchor="end" font-size="25.4">0.35</text>
<text x="201.0" y="607.3" text-anchor="middle" font-size="25.4">0.02</text>
<text x="300.3" y="607.3" text-anchor="middle" font-size="25.4">0.04</text>
<text x="399.6" y="607.3" text-anchor="middle" font-size="25.4">0.06</text>
<text x="498.9" y="607.3" text-anchor="middle" font-size="25.4">0.08</text>
<text x="598.2" y="607.3" text-anchor="middle" font-size="25.4">0.10</text>
<text x="697.5" y="607.3" text-anchor="middle" font-size="25.4">0.12</text>
<text x="796.8" y="607.3" text-anchor="middle" font-size="25.4">0.14</text>
<text x="896.0" y="607.3" text-anchor="middle" font-size="25.4">0.16</text>
<text x="89.0" y="607.3" text-anchor="middle" font-size="25.4">0</text>
<text x="318.08" y="77.60" font-size="25.0" font-style="italic">c</text>
<text x="328.16" y="81.80" font-size="18">0</text>
<path d="M344.90 69.40 H361.80" stroke="#000" stroke-width="1.4" fill="none"/>
<path d="M344.90 74.30 H361.80" stroke="#000" stroke-width="1.4" fill="none"/>
<text x="367.35" y="77.60" font-size="25.0">2</text>
<path d="M389.00 65.70 L400.80 77.50 M389.00 77.50 L400.80 65.70" stroke="#000" stroke-width="1.25" fill="none"/>
<text x="409.65" y="77.60" font-size="25.0">10</text>
<path d="M435.80 64.30 H445.90" stroke="#000" stroke-width="1.25" fill="none"/>
<text x="446.86" y="68.70" font-size="18.5">3</text>
<text x="463.13" y="77.60" font-size="25.0">mol</text>
<text x="507.13" y="77.60" font-size="25.0">m</text>
<path d="M528.20 62.80 H538.20" stroke="#000" stroke-width="1.25" fill="none"/>
<text x="538.96" y="67.50" font-size="18.5">3</text>
<text x="196.88" y="193.30" font-size="25.0" font-style="italic">c</text>
<text x="206.96" y="197.50" font-size="18">0</text>
<path d="M223.70 185.10 H240.60" stroke="#000" stroke-width="1.4" fill="none"/>
<path d="M223.70 190.00 H240.60" stroke="#000" stroke-width="1.4" fill="none"/>
<text x="246.30" y="193.30" font-size="25.0">8</text>
<path d="M267.80 181.40 L279.60 193.20 M267.80 193.20 L279.60 181.40" stroke="#000" stroke-width="1.25" fill="none"/>
<text x="288.45" y="193.30" font-size="25.0">10</text>
<path d="M314.60 180.00 H324.70" stroke="#000" stroke-width="1.25" fill="none"/>
<text x="325.66" y="184.40" font-size="18.5">3</text>
<text x="341.93" y="193.30" font-size="25.0">mol</text>
<text x="385.93" y="193.30" font-size="25.0">m</text>
<path d="M407.00 178.50 H417.00" stroke="#000" stroke-width="1.25" fill="none"/>
<text x="417.76" y="183.20" font-size="18.5">3</text>
<text x="128.98" y="299.60" font-size="25.0" font-style="italic">c</text>
<text x="139.06" y="303.80" font-size="18">0</text>
<path d="M155.80 291.40 H172.70" stroke="#000" stroke-width="1.4" fill="none"/>
<path d="M155.80 296.30 H172.70" stroke="#000" stroke-width="1.4" fill="none"/>
<text x="177.90" y="299.60" font-size="25.0">5</text>
<path d="M199.90 287.70 L211.70 299.50 M199.90 299.50 L211.70 287.70" stroke="#000" stroke-width="1.25" fill="none"/>
<text x="220.55" y="299.60" font-size="25.0">10</text>
<path d="M246.70 286.30 H256.80" stroke="#000" stroke-width="1.25" fill="none"/>
<text x="257.84" y="290.70" font-size="18.5">2</text>
<text x="277.23" y="299.60" font-size="25.0">mol</text>
<text x="325.63" y="299.60" font-size="25.0">m</text>
<path d="M346.70 284.80 H356.70" stroke="#000" stroke-width="1.25" fill="none"/>
<text x="357.06" y="289.50" font-size="18.5">3</text>
<text x="668.78" y="445.70" font-size="25.0">Sim</text>
<text x="718.05" y="445.70" font-size="25.0">I</text>
<path d="M732.40 437.70 C735.64 432.70 739.24 434.10 741.40 436.50 S747.16 440.30 750.40 435.30 M732.40 442.90 C735.64 437.90 739.24 439.30 741.40 441.70 S747.16 445.50 750.40 440.50" stroke="#000" stroke-width="1.5" fill="none"/>
<text x="755.80" y="445.70" font-size="25.0">8</text>
<text x="774.0" y="445.7" font-size="25.0" textLength="15.4" lengthAdjust="spacingAndGlyphs">μ</text>
<text x="791.53" y="445.70" font-size="25.0">m</text>
<text x="656.98" y="474.80" font-size="25.0">Sim</text>
<text x="706.25" y="474.80" font-size="25.0">I</text>
<path d="M720.60 466.80 C723.84 461.80 727.44 463.20 729.60 465.60 S735.36 469.40 738.60 464.40 M720.60 472.00 C723.84 467.00 727.44 468.40 729.60 470.80 S735.36 474.60 738.60 469.60" stroke="#000" stroke-width="1.5" fill="none"/>
<text x="743.35" y="474.80" font-size="25.0">16</text>
<text x="774.0" y="474.8" font-size="25.0" textLength="15.4" lengthAdjust="spacingAndGlyphs">μ</text>
<text x="791.53" y="474.80" font-size="25.0">m</text>
<text x="523.23" y="505.20" font-size="25.0">Exp.</text>
<text x="576.28" y="505.20" font-size="25.0" font-style="italic">c</text>
<text x="586.36" y="509.40" font-size="18">0</text>
<path d="M603.10 497.00 H620.00" stroke="#000" stroke-width="1.4" fill="none"/>
<path d="M603.10 501.90 H620.00" stroke="#000" stroke-width="1.4" fill="none"/>
<text x="625.55" y="505.20" font-size="25.0">2</text>
<path d="M647.20 493.30 L659.00 505.10 M647.20 505.10 L659.00 493.30" stroke="#000" stroke-width="1.25" fill="none"/>
<text x="667.85" y="505.20" font-size="25.0">10</text>
<path d="M694.00 491.90 H704.10" stroke="#000" stroke-width="1.25" fill="none"/>
<text x="705.06" y="496.30" font-size="18.5">3</text>
<text x="723.53" y="505.20" font-size="25.0">mol</text>
<text x="771.53" y="505.20" font-size="25.0">m</text>
<path d="M792.80 490.40 H802.80" stroke="#000" stroke-width="1.25" fill="none"/>
<text x="803.16" y="495.10" font-size="18.5">3</text>
<text x="523.23" y="534.90" font-size="25.0">Exp.</text>
<text x="576.28" y="534.90" font-size="25.0" font-style="italic">c</text>
<text x="586.36" y="539.10" font-size="18">0</text>
<path d="M603.10 526.70 H620.00" stroke="#000" stroke-width="1.4" fill="none"/>
<path d="M603.10 531.60 H620.00" stroke="#000" stroke-width="1.4" fill="none"/>
<text x="625.70" y="534.90" font-size="25.0">8</text>
<path d="M647.20 523.00 L659.00 534.80 M647.20 534.80 L659.00 523.00" stroke="#000" stroke-width="1.25" fill="none"/>
<text x="667.85" y="534.90" font-size="25.0">10</text>
<path d="M694.00 521.60 H704.10" stroke="#000" stroke-width="1.25" fill="none"/>
<text x="705.06" y="526.00" font-size="18.5">3</text>
<text x="723.53" y="534.90" font-size="25.0">mol</text>
<text x="771.53" y="534.90" font-size="25.0">m</text>
<path d="M792.80 520.10 H802.80" stroke="#000" stroke-width="1.25" fill="none"/>
<text x="803.16" y="524.80" font-size="18.5">3</text>
<text x="523.23" y="564.40" font-size="25.0">Exp.</text>
<text x="576.28" y="564.40" font-size="25.0" font-style="italic">c</text>
<text x="586.36" y="568.60" font-size="18">0</text>
<path d="M603.10 556.20 H620.00" stroke="#000" stroke-width="1.4" fill="none"/>
<path d="M603.10 561.10 H620.00" stroke="#000" stroke-width="1.4" fill="none"/>
<text x="625.20" y="564.40" font-size="25.0">5</text>
<path d="M647.20 552.50 L659.00 564.30 M647.20 564.30 L659.00 552.50" stroke="#000" stroke-width="1.25" fill="none"/>
<text x="667.85" y="564.40" font-size="25.0">10</text>
<path d="M694.00 551.10 H704.10" stroke="#000" stroke-width="1.25" fill="none"/>
<text x="705.14" y="555.50" font-size="18.5">2</text>
<text x="723.53" y="564.40" font-size="25.0">mol</text>
<text x="771.53" y="564.40" font-size="25.0">m</text>
<path d="M792.80 549.60 H802.80" stroke="#000" stroke-width="1.25" fill="none"/>
<text x="803.16" y="554.30" font-size="18.5">3</text>
<path d="M824 440.1 H875.6" stroke="#c6c6c6" stroke-width="1.5" fill="none"/>
<path d="M824 468.0 H874.6" stroke="#6a6a6a" stroke-width="1.7" stroke-dasharray="1.6 1.63" fill="none"/>
<g fill="none" stroke="#111" stroke-width="1.1"><circle cx="849.6" cy="497.8" r="3.9"/></g><g fill="none" stroke="#111" stroke-width="0.95"><path d="M849.7 523.0 L853.4 529.4 L846.0 529.4Z"/></g>
<g fill="#111"><circle cx="849.6" cy="497.8" r="0.45"/><circle cx="849.7" cy="527.6" r="0.4"/></g>
<circle cx="849.7" cy="558.4" r="4.3" fill="#000"/>
<text x="468.75" y="644.90" font-size="30" font-style="italic">y</text>
<text x="488.92" y="643.90" font-size="28">(</text>
<text x="498.01" y="644.90" font-size="30.5">m</text>
<text x="523.95" y="643.90" font-size="28">)</text>
<g transform="translate(24.6 360.3) rotate(-90)">
<text x="-1.27" y="0.00" font-size="28.5" font-style="italic">u</text>
<text x="18.08" y="5.20" font-size="19.5" font-style="italic">y</text>
<text x="32.46" y="-1.40" font-size="27">(</text>
<text x="44.91" y="0.00" font-size="25.5">m</text>
<text x="73.20" y="0.00" font-size="25.5">s</text>
<path d="M86.80 -16.00 H97.80" stroke="#000" stroke-width="1.25" fill="none"/>
<text x="99.97" y="-11.20" font-size="18">1</text>
<text x="108.98" y="-1.40" font-size="27">)</text>
</g>
</svg></body></html>
